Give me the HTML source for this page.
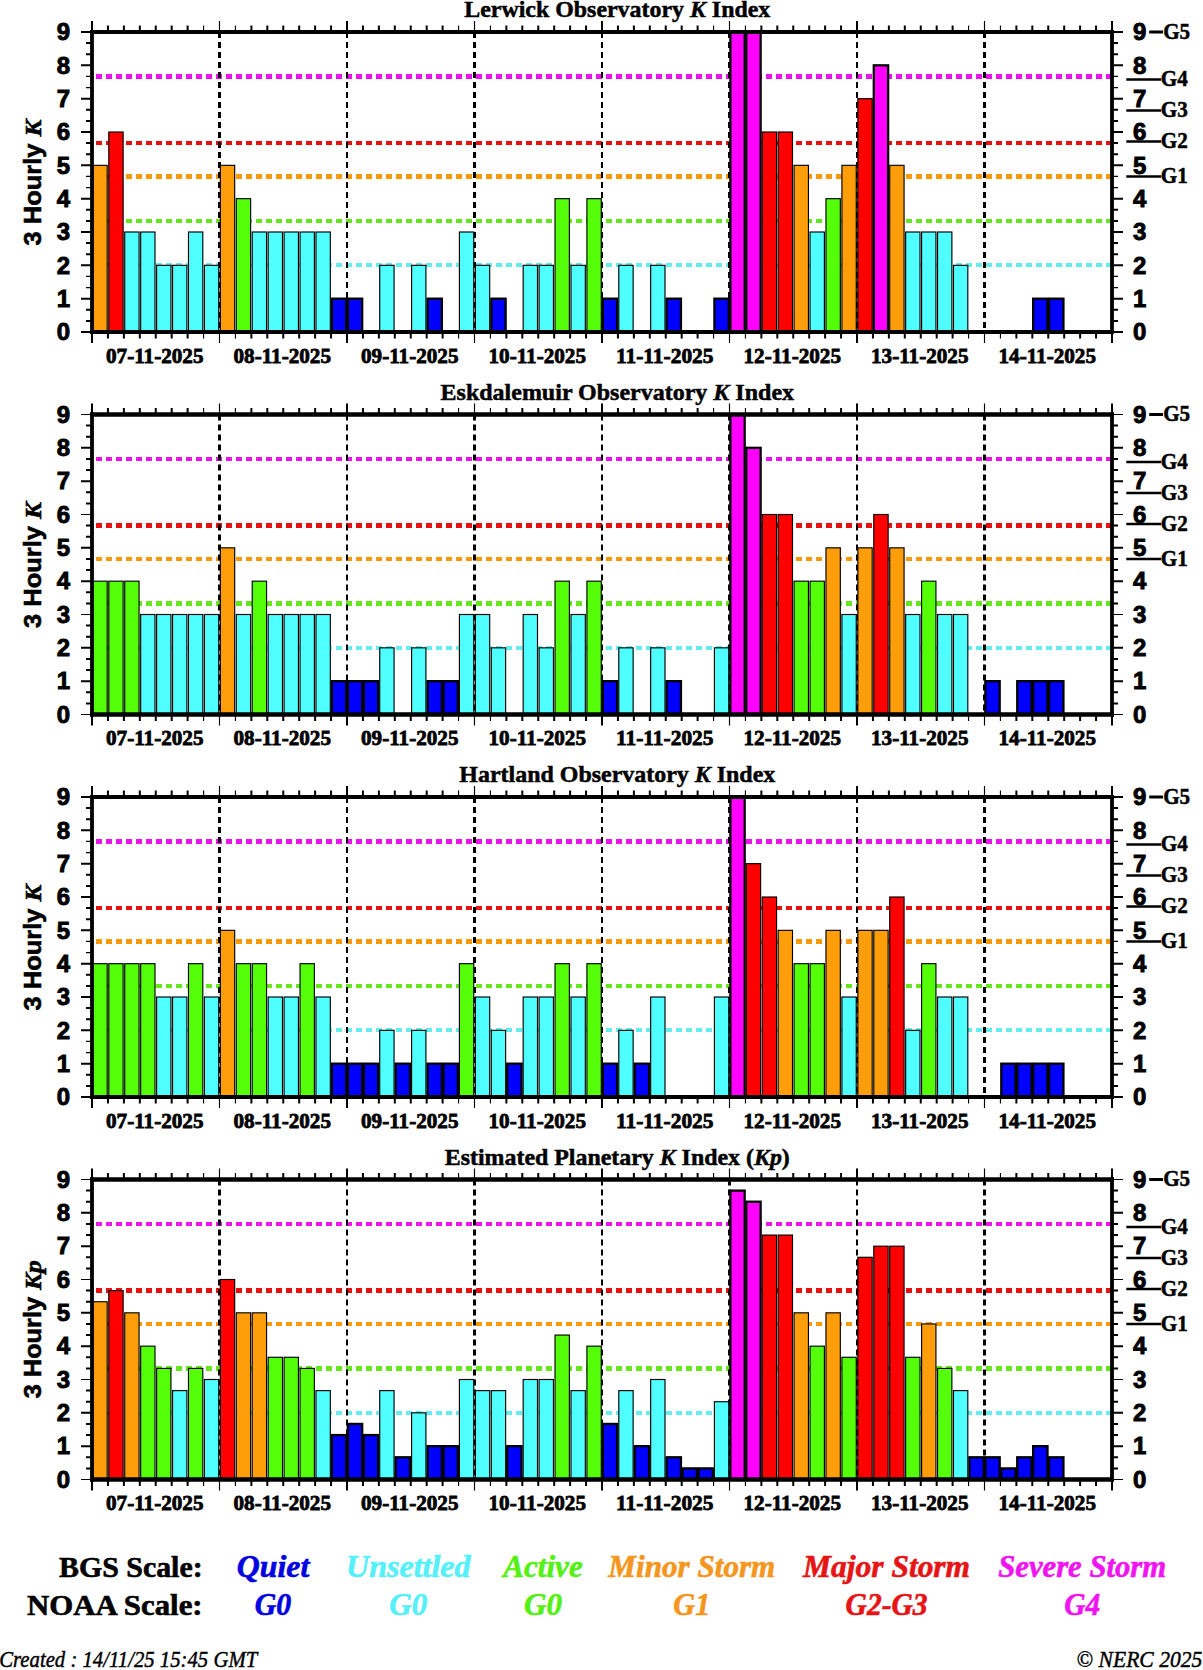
<!DOCTYPE html>
<html lang="en"><head><meta charset="utf-8"><title>Geomagnetic K indices</title>
<style>html,body{margin:0;padding:0;background:#fff}svg{display:block}</style></head>
<body>
<svg width="1203" height="1670" viewBox="0 0 1203 1670">
<rect width="1203" height="1670" fill="#fff"/>
<g>
<text x="617.3" y="17.1" text-anchor="middle" stroke="#000" stroke-width="0.5" font-family='"Liberation Serif", "DejaVu Serif", serif' font-weight="bold" font-size="23.6" textLength="306" lengthAdjust="spacingAndGlyphs" xml:space="preserve">Lerwick Observatory <tspan font-style="italic">K</tspan> Index</text>
<line x1="1112.0" y1="76.50" x2="92.0" y2="76.50" stroke="#EC14EC" stroke-width="5" stroke-dasharray="6 4"/>
<line x1="1112.0" y1="143.00" x2="92.0" y2="143.00" stroke="#E61212" stroke-width="4" stroke-dasharray="6 4"/>
<line x1="1112.0" y1="176.50" x2="92.0" y2="176.50" stroke="#F89A0C" stroke-width="5" stroke-dasharray="6 4"/>
<line x1="1112.0" y1="221.00" x2="92.0" y2="221.00" stroke="#66E61E" stroke-width="4" stroke-dasharray="6 4"/>
<line x1="1112.0" y1="265.00" x2="92.0" y2="265.00" stroke="#66ECEC" stroke-width="4" stroke-dasharray="6 4"/>
<line x1="219.5" y1="32.0" x2="219.5" y2="332.0" stroke="#000" stroke-width="3" stroke-dasharray="6 4"/>
<line x1="347.0" y1="32.0" x2="347.0" y2="332.0" stroke="#000" stroke-width="2" stroke-dasharray="6 4"/>
<line x1="474.5" y1="32.0" x2="474.5" y2="332.0" stroke="#000" stroke-width="3" stroke-dasharray="6 4"/>
<line x1="602.0" y1="32.0" x2="602.0" y2="332.0" stroke="#000" stroke-width="2" stroke-dasharray="6 4"/>
<line x1="729.5" y1="32.0" x2="729.5" y2="332.0" stroke="#000" stroke-width="3" stroke-dasharray="6 4"/>
<line x1="857.0" y1="32.0" x2="857.0" y2="332.0" stroke="#000" stroke-width="2" stroke-dasharray="6 4"/>
<line x1="984.5" y1="32.0" x2="984.5" y2="332.0" stroke="#000" stroke-width="3" stroke-dasharray="6 4"/>
<rect x="92.85" y="165.33" width="14.34" height="166.67" fill="#FF9E0A" stroke="#000" stroke-width="1.15"/>
<rect x="108.79" y="132.00" width="14.34" height="200.00" fill="#FF0000" stroke="#000" stroke-width="1.15"/>
<rect x="124.72" y="232.00" width="14.34" height="100.00" fill="#50FFFF" stroke="#000" stroke-width="1.15"/>
<rect x="140.66" y="232.00" width="14.34" height="100.00" fill="#50FFFF" stroke="#000" stroke-width="1.15"/>
<rect x="156.60" y="265.33" width="14.34" height="66.67" fill="#50FFFF" stroke="#000" stroke-width="1.15"/>
<rect x="172.54" y="265.33" width="14.34" height="66.67" fill="#50FFFF" stroke="#000" stroke-width="1.15"/>
<rect x="188.47" y="232.00" width="14.34" height="100.00" fill="#50FFFF" stroke="#000" stroke-width="1.15"/>
<rect x="204.41" y="265.33" width="14.34" height="66.67" fill="#50FFFF" stroke="#000" stroke-width="1.15"/>
<rect x="220.35" y="165.33" width="14.34" height="166.67" fill="#FF9E0A" stroke="#000" stroke-width="1.15"/>
<rect x="236.29" y="198.67" width="14.34" height="133.33" fill="#55FF0A" stroke="#000" stroke-width="1.15"/>
<rect x="252.22" y="232.00" width="14.34" height="100.00" fill="#50FFFF" stroke="#000" stroke-width="1.15"/>
<rect x="268.16" y="232.00" width="14.34" height="100.00" fill="#50FFFF" stroke="#000" stroke-width="1.15"/>
<rect x="284.10" y="232.00" width="14.34" height="100.00" fill="#50FFFF" stroke="#000" stroke-width="1.15"/>
<rect x="300.04" y="232.00" width="14.34" height="100.00" fill="#50FFFF" stroke="#000" stroke-width="1.15"/>
<rect x="315.98" y="232.00" width="14.34" height="100.00" fill="#50FFFF" stroke="#000" stroke-width="1.15"/>
<rect x="331.91" y="298.67" width="14.34" height="33.33" fill="#0000FF" stroke="#000" stroke-width="2.3"/>
<rect x="347.85" y="298.67" width="14.34" height="33.33" fill="#0000FF" stroke="#000" stroke-width="2.3"/>
<rect x="379.73" y="265.33" width="14.34" height="66.67" fill="#50FFFF" stroke="#000" stroke-width="1.15"/>
<rect x="411.60" y="265.33" width="14.34" height="66.67" fill="#50FFFF" stroke="#000" stroke-width="1.15"/>
<rect x="427.54" y="298.67" width="14.34" height="33.33" fill="#0000FF" stroke="#000" stroke-width="2.3"/>
<rect x="459.41" y="232.00" width="14.34" height="100.00" fill="#50FFFF" stroke="#000" stroke-width="1.15"/>
<rect x="475.35" y="265.33" width="14.34" height="66.67" fill="#50FFFF" stroke="#000" stroke-width="1.15"/>
<rect x="491.29" y="298.67" width="14.34" height="33.33" fill="#0000FF" stroke="#000" stroke-width="2.3"/>
<rect x="523.16" y="265.33" width="14.34" height="66.67" fill="#50FFFF" stroke="#000" stroke-width="1.15"/>
<rect x="539.10" y="265.33" width="14.34" height="66.67" fill="#50FFFF" stroke="#000" stroke-width="1.15"/>
<rect x="555.04" y="198.67" width="14.34" height="133.33" fill="#55FF0A" stroke="#000" stroke-width="1.15"/>
<rect x="570.98" y="265.33" width="14.34" height="66.67" fill="#50FFFF" stroke="#000" stroke-width="1.15"/>
<rect x="586.91" y="198.67" width="14.34" height="133.33" fill="#55FF0A" stroke="#000" stroke-width="1.15"/>
<rect x="602.85" y="298.67" width="14.34" height="33.33" fill="#0000FF" stroke="#000" stroke-width="2.3"/>
<rect x="618.79" y="265.33" width="14.34" height="66.67" fill="#50FFFF" stroke="#000" stroke-width="1.15"/>
<rect x="650.66" y="265.33" width="14.34" height="66.67" fill="#50FFFF" stroke="#000" stroke-width="1.15"/>
<rect x="666.60" y="298.67" width="14.34" height="33.33" fill="#0000FF" stroke="#000" stroke-width="2.3"/>
<rect x="714.41" y="298.67" width="14.34" height="33.33" fill="#0000FF" stroke="#000" stroke-width="2.3"/>
<rect x="730.35" y="32.00" width="14.34" height="300.00" fill="#FF00FF" stroke="#000" stroke-width="2.3"/>
<rect x="746.29" y="32.00" width="14.34" height="300.00" fill="#FF00FF" stroke="#000" stroke-width="2.3"/>
<rect x="762.23" y="132.00" width="14.34" height="200.00" fill="#FF0000" stroke="#000" stroke-width="1.15"/>
<rect x="778.16" y="132.00" width="14.34" height="200.00" fill="#FF0000" stroke="#000" stroke-width="1.15"/>
<rect x="794.10" y="165.33" width="14.34" height="166.67" fill="#FF9E0A" stroke="#000" stroke-width="1.15"/>
<rect x="810.04" y="232.00" width="14.34" height="100.00" fill="#50FFFF" stroke="#000" stroke-width="1.15"/>
<rect x="825.98" y="198.67" width="14.34" height="133.33" fill="#55FF0A" stroke="#000" stroke-width="1.15"/>
<rect x="841.91" y="165.33" width="14.34" height="166.67" fill="#FF9E0A" stroke="#000" stroke-width="1.15"/>
<rect x="857.85" y="98.67" width="14.34" height="233.33" fill="#FF0000" stroke="#000" stroke-width="1.15"/>
<rect x="873.79" y="65.33" width="14.34" height="266.67" fill="#FF00FF" stroke="#000" stroke-width="2.3"/>
<rect x="889.73" y="165.33" width="14.34" height="166.67" fill="#FF9E0A" stroke="#000" stroke-width="1.15"/>
<rect x="905.66" y="232.00" width="14.34" height="100.00" fill="#50FFFF" stroke="#000" stroke-width="1.15"/>
<rect x="921.60" y="232.00" width="14.34" height="100.00" fill="#50FFFF" stroke="#000" stroke-width="1.15"/>
<rect x="937.54" y="232.00" width="14.34" height="100.00" fill="#50FFFF" stroke="#000" stroke-width="1.15"/>
<rect x="953.48" y="265.33" width="14.34" height="66.67" fill="#50FFFF" stroke="#000" stroke-width="1.15"/>
<rect x="1033.16" y="298.67" width="14.34" height="33.33" fill="#0000FF" stroke="#000" stroke-width="2.3"/>
<rect x="1049.10" y="298.67" width="14.34" height="33.33" fill="#0000FF" stroke="#000" stroke-width="2.3"/>
<path d="M81.0,332.00H92.0M1112.0,332.00H1123.0M86.0,320.89H92.0M1112.0,320.89H1118.0M86.0,309.78H92.0M1112.0,309.78H1118.0M81.0,298.67H92.0M1112.0,298.67H1123.0M81.0,265.33H92.0M1112.0,265.33H1123.0M86.0,254.22H92.0M1112.0,254.22H1118.0M86.0,243.11H92.0M1112.0,243.11H1118.0M81.0,232.00H92.0M1112.0,232.00H1123.0M86.0,220.89H92.0M1112.0,220.89H1118.0M86.0,209.78H92.0M1112.0,209.78H1118.0M81.0,198.67H92.0M1112.0,198.67H1123.0M81.0,165.33H92.0M1112.0,165.33H1123.0M86.0,154.22H92.0M1112.0,154.22H1118.0M86.0,143.11H92.0M1112.0,143.11H1118.0M81.0,132.00H92.0M1112.0,132.00H1123.0M86.0,120.89H92.0M1112.0,120.89H1118.0M86.0,109.78H92.0M1112.0,109.78H1118.0M81.0,98.67H92.0M1112.0,98.67H1123.0M81.0,65.33H92.0M1112.0,65.33H1123.0M86.0,54.22H92.0M1112.0,54.22H1118.0M86.0,43.11H92.0M1112.0,43.11H1118.0M81.0,32.00H92.0M1112.0,32.00H1123.0M92.00,21.0V32.0M92.00,332.0V343.0M107.94,25.6V32.0M107.94,332.0V338.4M123.88,25.6V32.0M123.88,332.0V338.4M139.81,25.6V32.0M139.81,332.0V338.4M155.75,25.6V32.0M155.75,332.0V338.4M171.69,25.6V32.0M171.69,332.0V338.4M187.62,25.6V32.0M187.62,332.0V338.4M251.38,25.6V32.0M251.38,332.0V338.4M267.31,25.6V32.0M267.31,332.0V338.4M283.25,25.6V32.0M283.25,332.0V338.4M299.19,25.6V32.0M299.19,332.0V338.4M315.12,25.6V32.0M315.12,332.0V338.4M331.06,25.6V32.0M331.06,332.0V338.4M347.00,21.0V32.0M347.00,332.0V343.0M362.94,25.6V32.0M362.94,332.0V338.4M378.88,25.6V32.0M378.88,332.0V338.4M394.81,25.6V32.0M394.81,332.0V338.4M410.75,25.6V32.0M410.75,332.0V338.4M426.69,25.6V32.0M426.69,332.0V338.4M442.62,25.6V32.0M442.62,332.0V338.4M506.38,25.6V32.0M506.38,332.0V338.4M522.31,25.6V32.0M522.31,332.0V338.4M538.25,25.6V32.0M538.25,332.0V338.4M554.19,25.6V32.0M554.19,332.0V338.4M570.12,25.6V32.0M570.12,332.0V338.4M586.06,25.6V32.0M586.06,332.0V338.4M602.00,21.0V32.0M602.00,332.0V343.0M617.94,25.6V32.0M617.94,332.0V338.4M633.88,25.6V32.0M633.88,332.0V338.4M649.81,25.6V32.0M649.81,332.0V338.4M665.75,25.6V32.0M665.75,332.0V338.4M681.69,25.6V32.0M681.69,332.0V338.4M697.62,25.6V32.0M697.62,332.0V338.4M761.38,25.6V32.0M761.38,332.0V338.4M777.31,25.6V32.0M777.31,332.0V338.4M793.25,25.6V32.0M793.25,332.0V338.4M809.19,25.6V32.0M809.19,332.0V338.4M825.12,25.6V32.0M825.12,332.0V338.4M841.06,25.6V32.0M841.06,332.0V338.4M857.00,21.0V32.0M857.00,332.0V343.0M872.94,25.6V32.0M872.94,332.0V338.4M888.88,25.6V32.0M888.88,332.0V338.4M904.81,25.6V32.0M904.81,332.0V338.4M920.75,25.6V32.0M920.75,332.0V338.4M936.69,25.6V32.0M936.69,332.0V338.4M952.62,25.6V32.0M952.62,332.0V338.4M1016.38,25.6V32.0M1016.38,332.0V338.4M1032.31,25.6V32.0M1032.31,332.0V338.4M1048.25,25.6V32.0M1048.25,332.0V338.4M1064.19,25.6V32.0M1064.19,332.0V338.4M1080.12,25.6V32.0M1080.12,332.0V338.4M1096.06,25.6V32.0M1096.06,332.0V338.4M1112.00,21.0V32.0M1112.00,332.0V343.0" stroke="#000" stroke-width="2" fill="none"/>
<path d="M86.0,287.56H92.0M1112.0,287.56H1118.0M86.0,276.44H92.0M1112.0,276.44H1118.0M86.0,187.56H92.0M1112.0,187.56H1118.0M86.0,176.44H92.0M1112.0,176.44H1118.0M86.0,87.56H92.0M1112.0,87.56H1118.0M86.0,76.44H92.0M1112.0,76.44H1118.0M203.56,25.6V32.0M203.56,332.0V338.4M219.50,21.0V32.0M219.50,332.0V343.0M235.44,25.6V32.0M235.44,332.0V338.4M458.56,25.6V32.0M458.56,332.0V338.4M474.50,21.0V32.0M474.50,332.0V343.0M490.44,25.6V32.0M490.44,332.0V338.4M713.56,25.6V32.0M713.56,332.0V338.4M729.50,21.0V32.0M729.50,332.0V343.0M745.44,25.6V32.0M745.44,332.0V338.4M968.56,25.6V32.0M968.56,332.0V338.4M984.50,21.0V32.0M984.50,332.0V343.0M1000.44,25.6V32.0M1000.44,332.0V338.4" stroke="#000" stroke-width="1.15" fill="none"/>
<path d="M92.0,30.1V333.9M1112.0,30.1V333.9" stroke="#000" stroke-width="3.8" fill="none"/>
<path d="M90.2,32.0H1113.8M90.2,332.0H1113.8" stroke="#000" stroke-width="3.8" fill="none"/>
<text x="70.1" y="340.20" text-anchor="end" stroke="#000" stroke-width="0.9" font-family='"Liberation Sans", Arial, Helvetica, sans-serif' font-weight="bold" font-size="24">0</text>
<text x="1133.0" y="340.20" stroke="#000" stroke-width="0.9" font-family='"Liberation Sans", Arial, Helvetica, sans-serif' font-weight="bold" font-size="24">0</text>
<text x="70.1" y="306.87" text-anchor="end" stroke="#000" stroke-width="0.9" font-family='"Liberation Sans", Arial, Helvetica, sans-serif' font-weight="bold" font-size="24">1</text>
<text x="1133.0" y="306.87" stroke="#000" stroke-width="0.9" font-family='"Liberation Sans", Arial, Helvetica, sans-serif' font-weight="bold" font-size="24">1</text>
<text x="70.1" y="273.53" text-anchor="end" stroke="#000" stroke-width="0.9" font-family='"Liberation Sans", Arial, Helvetica, sans-serif' font-weight="bold" font-size="24">2</text>
<text x="1133.0" y="273.53" stroke="#000" stroke-width="0.9" font-family='"Liberation Sans", Arial, Helvetica, sans-serif' font-weight="bold" font-size="24">2</text>
<text x="70.1" y="240.20" text-anchor="end" stroke="#000" stroke-width="0.9" font-family='"Liberation Sans", Arial, Helvetica, sans-serif' font-weight="bold" font-size="24">3</text>
<text x="1133.0" y="240.20" stroke="#000" stroke-width="0.9" font-family='"Liberation Sans", Arial, Helvetica, sans-serif' font-weight="bold" font-size="24">3</text>
<text x="70.1" y="206.87" text-anchor="end" stroke="#000" stroke-width="0.9" font-family='"Liberation Sans", Arial, Helvetica, sans-serif' font-weight="bold" font-size="24">4</text>
<text x="1133.0" y="206.87" stroke="#000" stroke-width="0.9" font-family='"Liberation Sans", Arial, Helvetica, sans-serif' font-weight="bold" font-size="24">4</text>
<text x="70.1" y="173.53" text-anchor="end" stroke="#000" stroke-width="0.9" font-family='"Liberation Sans", Arial, Helvetica, sans-serif' font-weight="bold" font-size="24">5</text>
<text x="1133.0" y="173.53" stroke="#000" stroke-width="0.9" font-family='"Liberation Sans", Arial, Helvetica, sans-serif' font-weight="bold" font-size="24">5</text>
<text x="70.1" y="140.20" text-anchor="end" stroke="#000" stroke-width="0.9" font-family='"Liberation Sans", Arial, Helvetica, sans-serif' font-weight="bold" font-size="24">6</text>
<text x="1133.0" y="140.20" stroke="#000" stroke-width="0.9" font-family='"Liberation Sans", Arial, Helvetica, sans-serif' font-weight="bold" font-size="24">6</text>
<text x="70.1" y="106.87" text-anchor="end" stroke="#000" stroke-width="0.9" font-family='"Liberation Sans", Arial, Helvetica, sans-serif' font-weight="bold" font-size="24">7</text>
<text x="1133.0" y="106.87" stroke="#000" stroke-width="0.9" font-family='"Liberation Sans", Arial, Helvetica, sans-serif' font-weight="bold" font-size="24">7</text>
<text x="70.1" y="73.53" text-anchor="end" stroke="#000" stroke-width="0.9" font-family='"Liberation Sans", Arial, Helvetica, sans-serif' font-weight="bold" font-size="24">8</text>
<text x="1133.0" y="73.53" stroke="#000" stroke-width="0.9" font-family='"Liberation Sans", Arial, Helvetica, sans-serif' font-weight="bold" font-size="24">8</text>
<text x="70.1" y="40.20" text-anchor="end" stroke="#000" stroke-width="0.9" font-family='"Liberation Sans", Arial, Helvetica, sans-serif' font-weight="bold" font-size="24">9</text>
<text x="1133.0" y="40.20" stroke="#000" stroke-width="0.9" font-family='"Liberation Sans", Arial, Helvetica, sans-serif' font-weight="bold" font-size="24">9</text>
<line x1="1149.2" y1="32.0" x2="1163" y2="32.0" stroke="#000" stroke-width="3"/>
<text x="1163.2" y="38.6" stroke="#000" stroke-width="0.5" font-family='"Liberation Serif", "DejaVu Serif", serif' font-weight="bold" font-size="22.8" textLength="27" lengthAdjust="spacingAndGlyphs">G5</text>
<line x1="1126.3" y1="79.6" x2="1161.2" y2="79.6" stroke="#000" stroke-width="2.5"/>
<text x="1160.8" y="86.2" stroke="#000" stroke-width="0.5" font-family='"Liberation Serif", "DejaVu Serif", serif' font-weight="bold" font-size="22.8" textLength="27" lengthAdjust="spacingAndGlyphs">G4</text>
<line x1="1126.3" y1="110.4" x2="1161.2" y2="110.4" stroke="#000" stroke-width="2.5"/>
<text x="1160.8" y="117.0" stroke="#000" stroke-width="0.5" font-family='"Liberation Serif", "DejaVu Serif", serif' font-weight="bold" font-size="22.8" textLength="27" lengthAdjust="spacingAndGlyphs">G3</text>
<line x1="1126.3" y1="141.5" x2="1161.2" y2="141.5" stroke="#000" stroke-width="2.5"/>
<text x="1160.8" y="148.1" stroke="#000" stroke-width="0.5" font-family='"Liberation Serif", "DejaVu Serif", serif' font-weight="bold" font-size="22.8" textLength="27" lengthAdjust="spacingAndGlyphs">G2</text>
<line x1="1126.3" y1="176.6" x2="1161.2" y2="176.6" stroke="#000" stroke-width="2.5"/>
<text x="1160.8" y="183.2" stroke="#000" stroke-width="0.5" font-family='"Liberation Serif", "DejaVu Serif", serif' font-weight="bold" font-size="22.8" textLength="27" lengthAdjust="spacingAndGlyphs">G1</text>
<text x="154.75" y="362.5" text-anchor="middle" stroke="#000" stroke-width="0.8" font-family='"Liberation Serif", "DejaVu Serif", serif' font-weight="bold" font-size="21.6" textLength="97.5" lengthAdjust="spacingAndGlyphs">07-11-2025</text>
<text x="282.25" y="362.5" text-anchor="middle" stroke="#000" stroke-width="0.8" font-family='"Liberation Serif", "DejaVu Serif", serif' font-weight="bold" font-size="21.6" textLength="97.5" lengthAdjust="spacingAndGlyphs">08-11-2025</text>
<text x="409.75" y="362.5" text-anchor="middle" stroke="#000" stroke-width="0.8" font-family='"Liberation Serif", "DejaVu Serif", serif' font-weight="bold" font-size="21.6" textLength="97.5" lengthAdjust="spacingAndGlyphs">09-11-2025</text>
<text x="537.25" y="362.5" text-anchor="middle" stroke="#000" stroke-width="0.8" font-family='"Liberation Serif", "DejaVu Serif", serif' font-weight="bold" font-size="21.6" textLength="97.5" lengthAdjust="spacingAndGlyphs">10-11-2025</text>
<text x="664.75" y="362.5" text-anchor="middle" stroke="#000" stroke-width="0.8" font-family='"Liberation Serif", "DejaVu Serif", serif' font-weight="bold" font-size="21.6" textLength="97.5" lengthAdjust="spacingAndGlyphs">11-11-2025</text>
<text x="792.25" y="362.5" text-anchor="middle" stroke="#000" stroke-width="0.8" font-family='"Liberation Serif", "DejaVu Serif", serif' font-weight="bold" font-size="21.6" textLength="97.5" lengthAdjust="spacingAndGlyphs">12-11-2025</text>
<text x="919.75" y="362.5" text-anchor="middle" stroke="#000" stroke-width="0.8" font-family='"Liberation Serif", "DejaVu Serif", serif' font-weight="bold" font-size="21.6" textLength="97.5" lengthAdjust="spacingAndGlyphs">13-11-2025</text>
<text x="1047.25" y="362.5" text-anchor="middle" stroke="#000" stroke-width="0.8" font-family='"Liberation Serif", "DejaVu Serif", serif' font-weight="bold" font-size="21.6" textLength="97.5" lengthAdjust="spacingAndGlyphs">14-11-2025</text>
<text transform="translate(41.2,245.4) rotate(-90)" stroke="#000" stroke-width="0.6" font-family='"Liberation Sans", Arial, Helvetica, sans-serif' font-weight="bold" font-size="24" textLength="126" lengthAdjust="spacingAndGlyphs" xml:space="preserve">3 Hourly <tspan font-family='"Liberation Serif", "DejaVu Serif", serif' font-style="italic">K</tspan></text>
</g>
<g>
<text x="617.3" y="399.6" text-anchor="middle" stroke="#000" stroke-width="0.5" font-family='"Liberation Serif", "DejaVu Serif", serif' font-weight="bold" font-size="23.6" textLength="353.5" lengthAdjust="spacingAndGlyphs" xml:space="preserve">Eskdalemuir Observatory <tspan font-style="italic">K</tspan> Index</text>
<line x1="1112.0" y1="459.00" x2="92.0" y2="459.00" stroke="#EC14EC" stroke-width="4" stroke-dasharray="6 4"/>
<line x1="1112.0" y1="525.50" x2="92.0" y2="525.50" stroke="#E61212" stroke-width="5" stroke-dasharray="6 4"/>
<line x1="1112.0" y1="559.00" x2="92.0" y2="559.00" stroke="#F89A0C" stroke-width="4" stroke-dasharray="6 4"/>
<line x1="1112.0" y1="603.50" x2="92.0" y2="603.50" stroke="#66E61E" stroke-width="5" stroke-dasharray="6 4"/>
<line x1="1112.0" y1="648.00" x2="92.0" y2="648.00" stroke="#66ECEC" stroke-width="4" stroke-dasharray="6 4"/>
<line x1="219.5" y1="414.5" x2="219.5" y2="714.5" stroke="#000" stroke-width="3" stroke-dasharray="6 4"/>
<line x1="347.0" y1="414.5" x2="347.0" y2="714.5" stroke="#000" stroke-width="2" stroke-dasharray="6 4"/>
<line x1="474.5" y1="414.5" x2="474.5" y2="714.5" stroke="#000" stroke-width="3" stroke-dasharray="6 4"/>
<line x1="602.0" y1="414.5" x2="602.0" y2="714.5" stroke="#000" stroke-width="2" stroke-dasharray="6 4"/>
<line x1="729.5" y1="414.5" x2="729.5" y2="714.5" stroke="#000" stroke-width="3" stroke-dasharray="6 4"/>
<line x1="857.0" y1="414.5" x2="857.0" y2="714.5" stroke="#000" stroke-width="2" stroke-dasharray="6 4"/>
<line x1="984.5" y1="414.5" x2="984.5" y2="714.5" stroke="#000" stroke-width="3" stroke-dasharray="6 4"/>
<rect x="92.85" y="581.17" width="14.34" height="133.33" fill="#55FF0A" stroke="#000" stroke-width="1.15"/>
<rect x="108.79" y="581.17" width="14.34" height="133.33" fill="#55FF0A" stroke="#000" stroke-width="1.15"/>
<rect x="124.72" y="581.17" width="14.34" height="133.33" fill="#55FF0A" stroke="#000" stroke-width="1.15"/>
<rect x="140.66" y="614.50" width="14.34" height="100.00" fill="#50FFFF" stroke="#000" stroke-width="1.15"/>
<rect x="156.60" y="614.50" width="14.34" height="100.00" fill="#50FFFF" stroke="#000" stroke-width="1.15"/>
<rect x="172.54" y="614.50" width="14.34" height="100.00" fill="#50FFFF" stroke="#000" stroke-width="1.15"/>
<rect x="188.47" y="614.50" width="14.34" height="100.00" fill="#50FFFF" stroke="#000" stroke-width="1.15"/>
<rect x="204.41" y="614.50" width="14.34" height="100.00" fill="#50FFFF" stroke="#000" stroke-width="1.15"/>
<rect x="220.35" y="547.83" width="14.34" height="166.67" fill="#FF9E0A" stroke="#000" stroke-width="1.15"/>
<rect x="236.29" y="614.50" width="14.34" height="100.00" fill="#50FFFF" stroke="#000" stroke-width="1.15"/>
<rect x="252.22" y="581.17" width="14.34" height="133.33" fill="#55FF0A" stroke="#000" stroke-width="1.15"/>
<rect x="268.16" y="614.50" width="14.34" height="100.00" fill="#50FFFF" stroke="#000" stroke-width="1.15"/>
<rect x="284.10" y="614.50" width="14.34" height="100.00" fill="#50FFFF" stroke="#000" stroke-width="1.15"/>
<rect x="300.04" y="614.50" width="14.34" height="100.00" fill="#50FFFF" stroke="#000" stroke-width="1.15"/>
<rect x="315.98" y="614.50" width="14.34" height="100.00" fill="#50FFFF" stroke="#000" stroke-width="1.15"/>
<rect x="331.91" y="681.17" width="14.34" height="33.33" fill="#0000FF" stroke="#000" stroke-width="2.3"/>
<rect x="347.85" y="681.17" width="14.34" height="33.33" fill="#0000FF" stroke="#000" stroke-width="2.3"/>
<rect x="363.79" y="681.17" width="14.34" height="33.33" fill="#0000FF" stroke="#000" stroke-width="2.3"/>
<rect x="379.73" y="647.83" width="14.34" height="66.67" fill="#50FFFF" stroke="#000" stroke-width="1.15"/>
<rect x="395.66" y="714.50" width="14.34" height="0.00" fill="#0000FF" stroke="#000" stroke-width="2.3"/>
<rect x="411.60" y="647.83" width="14.34" height="66.67" fill="#50FFFF" stroke="#000" stroke-width="1.15"/>
<rect x="427.54" y="681.17" width="14.34" height="33.33" fill="#0000FF" stroke="#000" stroke-width="2.3"/>
<rect x="443.48" y="681.17" width="14.34" height="33.33" fill="#0000FF" stroke="#000" stroke-width="2.3"/>
<rect x="459.41" y="614.50" width="14.34" height="100.00" fill="#50FFFF" stroke="#000" stroke-width="1.15"/>
<rect x="475.35" y="614.50" width="14.34" height="100.00" fill="#50FFFF" stroke="#000" stroke-width="1.15"/>
<rect x="491.29" y="647.83" width="14.34" height="66.67" fill="#50FFFF" stroke="#000" stroke-width="1.15"/>
<rect x="507.23" y="714.50" width="14.34" height="0.00" fill="#0000FF" stroke="#000" stroke-width="2.3"/>
<rect x="523.16" y="614.50" width="14.34" height="100.00" fill="#50FFFF" stroke="#000" stroke-width="1.15"/>
<rect x="539.10" y="647.83" width="14.34" height="66.67" fill="#50FFFF" stroke="#000" stroke-width="1.15"/>
<rect x="555.04" y="581.17" width="14.34" height="133.33" fill="#55FF0A" stroke="#000" stroke-width="1.15"/>
<rect x="570.98" y="614.50" width="14.34" height="100.00" fill="#50FFFF" stroke="#000" stroke-width="1.15"/>
<rect x="586.91" y="581.17" width="14.34" height="133.33" fill="#55FF0A" stroke="#000" stroke-width="1.15"/>
<rect x="602.85" y="681.17" width="14.34" height="33.33" fill="#0000FF" stroke="#000" stroke-width="2.3"/>
<rect x="618.79" y="647.83" width="14.34" height="66.67" fill="#50FFFF" stroke="#000" stroke-width="1.15"/>
<rect x="634.73" y="714.50" width="14.34" height="0.00" fill="#0000FF" stroke="#000" stroke-width="2.3"/>
<rect x="650.66" y="647.83" width="14.34" height="66.67" fill="#50FFFF" stroke="#000" stroke-width="1.15"/>
<rect x="666.60" y="681.17" width="14.34" height="33.33" fill="#0000FF" stroke="#000" stroke-width="2.3"/>
<rect x="682.54" y="714.50" width="14.34" height="0.00" fill="#0000FF" stroke="#000" stroke-width="2.3"/>
<rect x="698.48" y="714.50" width="14.34" height="0.00" fill="#0000FF" stroke="#000" stroke-width="2.3"/>
<rect x="714.41" y="647.83" width="14.34" height="66.67" fill="#50FFFF" stroke="#000" stroke-width="1.15"/>
<rect x="730.35" y="414.50" width="14.34" height="300.00" fill="#FF00FF" stroke="#000" stroke-width="2.3"/>
<rect x="746.29" y="447.83" width="14.34" height="266.67" fill="#FF00FF" stroke="#000" stroke-width="2.3"/>
<rect x="762.23" y="514.50" width="14.34" height="200.00" fill="#FF0000" stroke="#000" stroke-width="1.15"/>
<rect x="778.16" y="514.50" width="14.34" height="200.00" fill="#FF0000" stroke="#000" stroke-width="1.15"/>
<rect x="794.10" y="581.17" width="14.34" height="133.33" fill="#55FF0A" stroke="#000" stroke-width="1.15"/>
<rect x="810.04" y="581.17" width="14.34" height="133.33" fill="#55FF0A" stroke="#000" stroke-width="1.15"/>
<rect x="825.98" y="547.83" width="14.34" height="166.67" fill="#FF9E0A" stroke="#000" stroke-width="1.15"/>
<rect x="841.91" y="614.50" width="14.34" height="100.00" fill="#50FFFF" stroke="#000" stroke-width="1.15"/>
<rect x="857.85" y="547.83" width="14.34" height="166.67" fill="#FF9E0A" stroke="#000" stroke-width="1.15"/>
<rect x="873.79" y="514.50" width="14.34" height="200.00" fill="#FF0000" stroke="#000" stroke-width="1.15"/>
<rect x="889.73" y="547.83" width="14.34" height="166.67" fill="#FF9E0A" stroke="#000" stroke-width="1.15"/>
<rect x="905.66" y="614.50" width="14.34" height="100.00" fill="#50FFFF" stroke="#000" stroke-width="1.15"/>
<rect x="921.60" y="581.17" width="14.34" height="133.33" fill="#55FF0A" stroke="#000" stroke-width="1.15"/>
<rect x="937.54" y="614.50" width="14.34" height="100.00" fill="#50FFFF" stroke="#000" stroke-width="1.15"/>
<rect x="953.48" y="614.50" width="14.34" height="100.00" fill="#50FFFF" stroke="#000" stroke-width="1.15"/>
<rect x="969.41" y="714.50" width="14.34" height="0.00" fill="#0000FF" stroke="#000" stroke-width="2.3"/>
<rect x="985.35" y="681.17" width="14.34" height="33.33" fill="#0000FF" stroke="#000" stroke-width="2.3"/>
<rect x="1001.29" y="714.50" width="14.34" height="0.00" fill="#0000FF" stroke="#000" stroke-width="2.3"/>
<rect x="1017.23" y="681.17" width="14.34" height="33.33" fill="#0000FF" stroke="#000" stroke-width="2.3"/>
<rect x="1033.16" y="681.17" width="14.34" height="33.33" fill="#0000FF" stroke="#000" stroke-width="2.3"/>
<rect x="1049.10" y="681.17" width="14.34" height="33.33" fill="#0000FF" stroke="#000" stroke-width="2.3"/>
<rect x="1065.04" y="714.50" width="14.34" height="0.00" fill="#0000FF" stroke="#000" stroke-width="2.3"/>
<rect x="1080.97" y="714.50" width="14.34" height="0.00" fill="#0000FF" stroke="#000" stroke-width="2.3"/>
<path d="M86.0,703.39H92.0M1112.0,703.39H1118.0M86.0,692.28H92.0M1112.0,692.28H1118.0M81.0,681.17H92.0M1112.0,681.17H1123.0M86.0,670.06H92.0M1112.0,670.06H1118.0M86.0,658.94H92.0M1112.0,658.94H1118.0M81.0,647.83H92.0M1112.0,647.83H1123.0M86.0,636.72H92.0M1112.0,636.72H1118.0M86.0,625.61H92.0M1112.0,625.61H1118.0M86.0,603.39H92.0M1112.0,603.39H1118.0M86.0,592.28H92.0M1112.0,592.28H1118.0M81.0,581.17H92.0M1112.0,581.17H1123.0M86.0,570.06H92.0M1112.0,570.06H1118.0M86.0,558.94H92.0M1112.0,558.94H1118.0M81.0,547.83H92.0M1112.0,547.83H1123.0M86.0,536.72H92.0M1112.0,536.72H1118.0M86.0,525.61H92.0M1112.0,525.61H1118.0M86.0,503.39H92.0M1112.0,503.39H1118.0M86.0,492.28H92.0M1112.0,492.28H1118.0M81.0,481.17H92.0M1112.0,481.17H1123.0M86.0,470.06H92.0M1112.0,470.06H1118.0M86.0,458.94H92.0M1112.0,458.94H1118.0M81.0,447.83H92.0M1112.0,447.83H1123.0M86.0,436.72H92.0M1112.0,436.72H1118.0M86.0,425.61H92.0M1112.0,425.61H1118.0M92.00,403.5V414.5M92.00,714.5V725.5M107.94,408.1V414.5M107.94,714.5V720.9M123.88,408.1V414.5M123.88,714.5V720.9M139.81,408.1V414.5M139.81,714.5V720.9M155.75,408.1V414.5M155.75,714.5V720.9M171.69,408.1V414.5M171.69,714.5V720.9M187.62,408.1V414.5M187.62,714.5V720.9M251.38,408.1V414.5M251.38,714.5V720.9M267.31,408.1V414.5M267.31,714.5V720.9M283.25,408.1V414.5M283.25,714.5V720.9M299.19,408.1V414.5M299.19,714.5V720.9M315.12,408.1V414.5M315.12,714.5V720.9M331.06,408.1V414.5M331.06,714.5V720.9M347.00,403.5V414.5M347.00,714.5V725.5M362.94,408.1V414.5M362.94,714.5V720.9M378.88,408.1V414.5M378.88,714.5V720.9M394.81,408.1V414.5M394.81,714.5V720.9M410.75,408.1V414.5M410.75,714.5V720.9M426.69,408.1V414.5M426.69,714.5V720.9M442.62,408.1V414.5M442.62,714.5V720.9M506.38,408.1V414.5M506.38,714.5V720.9M522.31,408.1V414.5M522.31,714.5V720.9M538.25,408.1V414.5M538.25,714.5V720.9M554.19,408.1V414.5M554.19,714.5V720.9M570.12,408.1V414.5M570.12,714.5V720.9M586.06,408.1V414.5M586.06,714.5V720.9M602.00,403.5V414.5M602.00,714.5V725.5M617.94,408.1V414.5M617.94,714.5V720.9M633.88,408.1V414.5M633.88,714.5V720.9M649.81,408.1V414.5M649.81,714.5V720.9M665.75,408.1V414.5M665.75,714.5V720.9M681.69,408.1V414.5M681.69,714.5V720.9M697.62,408.1V414.5M697.62,714.5V720.9M761.38,408.1V414.5M761.38,714.5V720.9M777.31,408.1V414.5M777.31,714.5V720.9M793.25,408.1V414.5M793.25,714.5V720.9M809.19,408.1V414.5M809.19,714.5V720.9M825.12,408.1V414.5M825.12,714.5V720.9M841.06,408.1V414.5M841.06,714.5V720.9M857.00,403.5V414.5M857.00,714.5V725.5M872.94,408.1V414.5M872.94,714.5V720.9M888.88,408.1V414.5M888.88,714.5V720.9M904.81,408.1V414.5M904.81,714.5V720.9M920.75,408.1V414.5M920.75,714.5V720.9M936.69,408.1V414.5M936.69,714.5V720.9M952.62,408.1V414.5M952.62,714.5V720.9M1016.38,408.1V414.5M1016.38,714.5V720.9M1032.31,408.1V414.5M1032.31,714.5V720.9M1048.25,408.1V414.5M1048.25,714.5V720.9M1064.19,408.1V414.5M1064.19,714.5V720.9M1080.12,408.1V414.5M1080.12,714.5V720.9M1096.06,408.1V414.5M1096.06,714.5V720.9M1112.00,403.5V414.5M1112.00,714.5V725.5" stroke="#000" stroke-width="2" fill="none"/>
<path d="M81.0,714.50H92.0M1112.0,714.50H1123.0M81.0,614.50H92.0M1112.0,614.50H1123.0M81.0,514.50H92.0M1112.0,514.50H1123.0M81.0,414.50H92.0M1112.0,414.50H1123.0M203.56,408.1V414.5M203.56,714.5V720.9M219.50,403.5V414.5M219.50,714.5V725.5M235.44,408.1V414.5M235.44,714.5V720.9M458.56,408.1V414.5M458.56,714.5V720.9M474.50,403.5V414.5M474.50,714.5V725.5M490.44,408.1V414.5M490.44,714.5V720.9M713.56,408.1V414.5M713.56,714.5V720.9M729.50,403.5V414.5M729.50,714.5V725.5M745.44,408.1V414.5M745.44,714.5V720.9M968.56,408.1V414.5M968.56,714.5V720.9M984.50,403.5V414.5M984.50,714.5V725.5M1000.44,408.1V414.5M1000.44,714.5V720.9" stroke="#000" stroke-width="1.15" fill="none"/>
<path d="M92.0,412.15V716.85M1112.0,412.15V716.85" stroke="#000" stroke-width="3.8" fill="none"/>
<path d="M90.2,414.5H1113.8M90.2,714.5H1113.8" stroke="#000" stroke-width="4.7" fill="none"/>
<text x="70.1" y="722.70" text-anchor="end" stroke="#000" stroke-width="0.9" font-family='"Liberation Sans", Arial, Helvetica, sans-serif' font-weight="bold" font-size="24">0</text>
<text x="1133.0" y="722.70" stroke="#000" stroke-width="0.9" font-family='"Liberation Sans", Arial, Helvetica, sans-serif' font-weight="bold" font-size="24">0</text>
<text x="70.1" y="689.37" text-anchor="end" stroke="#000" stroke-width="0.9" font-family='"Liberation Sans", Arial, Helvetica, sans-serif' font-weight="bold" font-size="24">1</text>
<text x="1133.0" y="689.37" stroke="#000" stroke-width="0.9" font-family='"Liberation Sans", Arial, Helvetica, sans-serif' font-weight="bold" font-size="24">1</text>
<text x="70.1" y="656.03" text-anchor="end" stroke="#000" stroke-width="0.9" font-family='"Liberation Sans", Arial, Helvetica, sans-serif' font-weight="bold" font-size="24">2</text>
<text x="1133.0" y="656.03" stroke="#000" stroke-width="0.9" font-family='"Liberation Sans", Arial, Helvetica, sans-serif' font-weight="bold" font-size="24">2</text>
<text x="70.1" y="622.70" text-anchor="end" stroke="#000" stroke-width="0.9" font-family='"Liberation Sans", Arial, Helvetica, sans-serif' font-weight="bold" font-size="24">3</text>
<text x="1133.0" y="622.70" stroke="#000" stroke-width="0.9" font-family='"Liberation Sans", Arial, Helvetica, sans-serif' font-weight="bold" font-size="24">3</text>
<text x="70.1" y="589.37" text-anchor="end" stroke="#000" stroke-width="0.9" font-family='"Liberation Sans", Arial, Helvetica, sans-serif' font-weight="bold" font-size="24">4</text>
<text x="1133.0" y="589.37" stroke="#000" stroke-width="0.9" font-family='"Liberation Sans", Arial, Helvetica, sans-serif' font-weight="bold" font-size="24">4</text>
<text x="70.1" y="556.03" text-anchor="end" stroke="#000" stroke-width="0.9" font-family='"Liberation Sans", Arial, Helvetica, sans-serif' font-weight="bold" font-size="24">5</text>
<text x="1133.0" y="556.03" stroke="#000" stroke-width="0.9" font-family='"Liberation Sans", Arial, Helvetica, sans-serif' font-weight="bold" font-size="24">5</text>
<text x="70.1" y="522.70" text-anchor="end" stroke="#000" stroke-width="0.9" font-family='"Liberation Sans", Arial, Helvetica, sans-serif' font-weight="bold" font-size="24">6</text>
<text x="1133.0" y="522.70" stroke="#000" stroke-width="0.9" font-family='"Liberation Sans", Arial, Helvetica, sans-serif' font-weight="bold" font-size="24">6</text>
<text x="70.1" y="489.37" text-anchor="end" stroke="#000" stroke-width="0.9" font-family='"Liberation Sans", Arial, Helvetica, sans-serif' font-weight="bold" font-size="24">7</text>
<text x="1133.0" y="489.37" stroke="#000" stroke-width="0.9" font-family='"Liberation Sans", Arial, Helvetica, sans-serif' font-weight="bold" font-size="24">7</text>
<text x="70.1" y="456.03" text-anchor="end" stroke="#000" stroke-width="0.9" font-family='"Liberation Sans", Arial, Helvetica, sans-serif' font-weight="bold" font-size="24">8</text>
<text x="1133.0" y="456.03" stroke="#000" stroke-width="0.9" font-family='"Liberation Sans", Arial, Helvetica, sans-serif' font-weight="bold" font-size="24">8</text>
<text x="70.1" y="422.70" text-anchor="end" stroke="#000" stroke-width="0.9" font-family='"Liberation Sans", Arial, Helvetica, sans-serif' font-weight="bold" font-size="24">9</text>
<text x="1133.0" y="422.70" stroke="#000" stroke-width="0.9" font-family='"Liberation Sans", Arial, Helvetica, sans-serif' font-weight="bold" font-size="24">9</text>
<line x1="1149.2" y1="414.5" x2="1163" y2="414.5" stroke="#000" stroke-width="3"/>
<text x="1163.2" y="421.1" stroke="#000" stroke-width="0.5" font-family='"Liberation Serif", "DejaVu Serif", serif' font-weight="bold" font-size="22.8" textLength="27" lengthAdjust="spacingAndGlyphs">G5</text>
<line x1="1126.3" y1="462.1" x2="1161.2" y2="462.1" stroke="#000" stroke-width="2.5"/>
<text x="1160.8" y="468.7" stroke="#000" stroke-width="0.5" font-family='"Liberation Serif", "DejaVu Serif", serif' font-weight="bold" font-size="22.8" textLength="27" lengthAdjust="spacingAndGlyphs">G4</text>
<line x1="1126.3" y1="492.9" x2="1161.2" y2="492.9" stroke="#000" stroke-width="2.5"/>
<text x="1160.8" y="499.5" stroke="#000" stroke-width="0.5" font-family='"Liberation Serif", "DejaVu Serif", serif' font-weight="bold" font-size="22.8" textLength="27" lengthAdjust="spacingAndGlyphs">G3</text>
<line x1="1126.3" y1="524.0" x2="1161.2" y2="524.0" stroke="#000" stroke-width="2.5"/>
<text x="1160.8" y="530.6" stroke="#000" stroke-width="0.5" font-family='"Liberation Serif", "DejaVu Serif", serif' font-weight="bold" font-size="22.8" textLength="27" lengthAdjust="spacingAndGlyphs">G2</text>
<line x1="1126.3" y1="559.1" x2="1161.2" y2="559.1" stroke="#000" stroke-width="2.5"/>
<text x="1160.8" y="565.7" stroke="#000" stroke-width="0.5" font-family='"Liberation Serif", "DejaVu Serif", serif' font-weight="bold" font-size="22.8" textLength="27" lengthAdjust="spacingAndGlyphs">G1</text>
<text x="154.75" y="745.0" text-anchor="middle" stroke="#000" stroke-width="0.8" font-family='"Liberation Serif", "DejaVu Serif", serif' font-weight="bold" font-size="21.6" textLength="97.5" lengthAdjust="spacingAndGlyphs">07-11-2025</text>
<text x="282.25" y="745.0" text-anchor="middle" stroke="#000" stroke-width="0.8" font-family='"Liberation Serif", "DejaVu Serif", serif' font-weight="bold" font-size="21.6" textLength="97.5" lengthAdjust="spacingAndGlyphs">08-11-2025</text>
<text x="409.75" y="745.0" text-anchor="middle" stroke="#000" stroke-width="0.8" font-family='"Liberation Serif", "DejaVu Serif", serif' font-weight="bold" font-size="21.6" textLength="97.5" lengthAdjust="spacingAndGlyphs">09-11-2025</text>
<text x="537.25" y="745.0" text-anchor="middle" stroke="#000" stroke-width="0.8" font-family='"Liberation Serif", "DejaVu Serif", serif' font-weight="bold" font-size="21.6" textLength="97.5" lengthAdjust="spacingAndGlyphs">10-11-2025</text>
<text x="664.75" y="745.0" text-anchor="middle" stroke="#000" stroke-width="0.8" font-family='"Liberation Serif", "DejaVu Serif", serif' font-weight="bold" font-size="21.6" textLength="97.5" lengthAdjust="spacingAndGlyphs">11-11-2025</text>
<text x="792.25" y="745.0" text-anchor="middle" stroke="#000" stroke-width="0.8" font-family='"Liberation Serif", "DejaVu Serif", serif' font-weight="bold" font-size="21.6" textLength="97.5" lengthAdjust="spacingAndGlyphs">12-11-2025</text>
<text x="919.75" y="745.0" text-anchor="middle" stroke="#000" stroke-width="0.8" font-family='"Liberation Serif", "DejaVu Serif", serif' font-weight="bold" font-size="21.6" textLength="97.5" lengthAdjust="spacingAndGlyphs">13-11-2025</text>
<text x="1047.25" y="745.0" text-anchor="middle" stroke="#000" stroke-width="0.8" font-family='"Liberation Serif", "DejaVu Serif", serif' font-weight="bold" font-size="21.6" textLength="97.5" lengthAdjust="spacingAndGlyphs">14-11-2025</text>
<text transform="translate(41.2,627.9) rotate(-90)" stroke="#000" stroke-width="0.6" font-family='"Liberation Sans", Arial, Helvetica, sans-serif' font-weight="bold" font-size="24" textLength="126" lengthAdjust="spacingAndGlyphs" xml:space="preserve">3 Hourly <tspan font-family='"Liberation Serif", "DejaVu Serif", serif' font-style="italic">K</tspan></text>
</g>
<g>
<text x="617.3" y="782.1" text-anchor="middle" stroke="#000" stroke-width="0.5" font-family='"Liberation Serif", "DejaVu Serif", serif' font-weight="bold" font-size="23.6" textLength="316" lengthAdjust="spacingAndGlyphs" xml:space="preserve">Hartland Observatory <tspan font-style="italic">K</tspan> Index</text>
<line x1="1112.0" y1="841.50" x2="92.0" y2="841.50" stroke="#EC14EC" stroke-width="5" stroke-dasharray="6 4"/>
<line x1="1112.0" y1="908.00" x2="92.0" y2="908.00" stroke="#E61212" stroke-width="4" stroke-dasharray="6 4"/>
<line x1="1112.0" y1="941.50" x2="92.0" y2="941.50" stroke="#F89A0C" stroke-width="5" stroke-dasharray="6 4"/>
<line x1="1112.0" y1="986.00" x2="92.0" y2="986.00" stroke="#66E61E" stroke-width="4" stroke-dasharray="6 4"/>
<line x1="1112.0" y1="1030.00" x2="92.0" y2="1030.00" stroke="#66ECEC" stroke-width="4" stroke-dasharray="6 4"/>
<line x1="219.5" y1="797.0" x2="219.5" y2="1097.0" stroke="#000" stroke-width="3" stroke-dasharray="6 4"/>
<line x1="347.0" y1="797.0" x2="347.0" y2="1097.0" stroke="#000" stroke-width="2" stroke-dasharray="6 4"/>
<line x1="474.5" y1="797.0" x2="474.5" y2="1097.0" stroke="#000" stroke-width="3" stroke-dasharray="6 4"/>
<line x1="602.0" y1="797.0" x2="602.0" y2="1097.0" stroke="#000" stroke-width="2" stroke-dasharray="6 4"/>
<line x1="729.5" y1="797.0" x2="729.5" y2="1097.0" stroke="#000" stroke-width="3" stroke-dasharray="6 4"/>
<line x1="857.0" y1="797.0" x2="857.0" y2="1097.0" stroke="#000" stroke-width="2" stroke-dasharray="6 4"/>
<line x1="984.5" y1="797.0" x2="984.5" y2="1097.0" stroke="#000" stroke-width="3" stroke-dasharray="6 4"/>
<rect x="92.85" y="963.67" width="14.34" height="133.33" fill="#55FF0A" stroke="#000" stroke-width="1.15"/>
<rect x="108.79" y="963.67" width="14.34" height="133.33" fill="#55FF0A" stroke="#000" stroke-width="1.15"/>
<rect x="124.72" y="963.67" width="14.34" height="133.33" fill="#55FF0A" stroke="#000" stroke-width="1.15"/>
<rect x="140.66" y="963.67" width="14.34" height="133.33" fill="#55FF0A" stroke="#000" stroke-width="1.15"/>
<rect x="156.60" y="997.00" width="14.34" height="100.00" fill="#50FFFF" stroke="#000" stroke-width="1.15"/>
<rect x="172.54" y="997.00" width="14.34" height="100.00" fill="#50FFFF" stroke="#000" stroke-width="1.15"/>
<rect x="188.47" y="963.67" width="14.34" height="133.33" fill="#55FF0A" stroke="#000" stroke-width="1.15"/>
<rect x="204.41" y="997.00" width="14.34" height="100.00" fill="#50FFFF" stroke="#000" stroke-width="1.15"/>
<rect x="220.35" y="930.33" width="14.34" height="166.67" fill="#FF9E0A" stroke="#000" stroke-width="1.15"/>
<rect x="236.29" y="963.67" width="14.34" height="133.33" fill="#55FF0A" stroke="#000" stroke-width="1.15"/>
<rect x="252.22" y="963.67" width="14.34" height="133.33" fill="#55FF0A" stroke="#000" stroke-width="1.15"/>
<rect x="268.16" y="997.00" width="14.34" height="100.00" fill="#50FFFF" stroke="#000" stroke-width="1.15"/>
<rect x="284.10" y="997.00" width="14.34" height="100.00" fill="#50FFFF" stroke="#000" stroke-width="1.15"/>
<rect x="300.04" y="963.67" width="14.34" height="133.33" fill="#55FF0A" stroke="#000" stroke-width="1.15"/>
<rect x="315.98" y="997.00" width="14.34" height="100.00" fill="#50FFFF" stroke="#000" stroke-width="1.15"/>
<rect x="331.91" y="1063.67" width="14.34" height="33.33" fill="#0000FF" stroke="#000" stroke-width="2.3"/>
<rect x="347.85" y="1063.67" width="14.34" height="33.33" fill="#0000FF" stroke="#000" stroke-width="2.3"/>
<rect x="363.79" y="1063.67" width="14.34" height="33.33" fill="#0000FF" stroke="#000" stroke-width="2.3"/>
<rect x="379.73" y="1030.33" width="14.34" height="66.67" fill="#50FFFF" stroke="#000" stroke-width="1.15"/>
<rect x="395.66" y="1063.67" width="14.34" height="33.33" fill="#0000FF" stroke="#000" stroke-width="2.3"/>
<rect x="411.60" y="1030.33" width="14.34" height="66.67" fill="#50FFFF" stroke="#000" stroke-width="1.15"/>
<rect x="427.54" y="1063.67" width="14.34" height="33.33" fill="#0000FF" stroke="#000" stroke-width="2.3"/>
<rect x="443.48" y="1063.67" width="14.34" height="33.33" fill="#0000FF" stroke="#000" stroke-width="2.3"/>
<rect x="459.41" y="963.67" width="14.34" height="133.33" fill="#55FF0A" stroke="#000" stroke-width="1.15"/>
<rect x="475.35" y="997.00" width="14.34" height="100.00" fill="#50FFFF" stroke="#000" stroke-width="1.15"/>
<rect x="491.29" y="1030.33" width="14.34" height="66.67" fill="#50FFFF" stroke="#000" stroke-width="1.15"/>
<rect x="507.23" y="1063.67" width="14.34" height="33.33" fill="#0000FF" stroke="#000" stroke-width="2.3"/>
<rect x="523.16" y="997.00" width="14.34" height="100.00" fill="#50FFFF" stroke="#000" stroke-width="1.15"/>
<rect x="539.10" y="997.00" width="14.34" height="100.00" fill="#50FFFF" stroke="#000" stroke-width="1.15"/>
<rect x="555.04" y="963.67" width="14.34" height="133.33" fill="#55FF0A" stroke="#000" stroke-width="1.15"/>
<rect x="570.98" y="997.00" width="14.34" height="100.00" fill="#50FFFF" stroke="#000" stroke-width="1.15"/>
<rect x="586.91" y="963.67" width="14.34" height="133.33" fill="#55FF0A" stroke="#000" stroke-width="1.15"/>
<rect x="602.85" y="1063.67" width="14.34" height="33.33" fill="#0000FF" stroke="#000" stroke-width="2.3"/>
<rect x="618.79" y="1030.33" width="14.34" height="66.67" fill="#50FFFF" stroke="#000" stroke-width="1.15"/>
<rect x="634.73" y="1063.67" width="14.34" height="33.33" fill="#0000FF" stroke="#000" stroke-width="2.3"/>
<rect x="650.66" y="997.00" width="14.34" height="100.00" fill="#50FFFF" stroke="#000" stroke-width="1.15"/>
<rect x="666.60" y="1097.00" width="14.34" height="0.00" fill="#0000FF" stroke="#000" stroke-width="2.3"/>
<rect x="682.54" y="1097.00" width="14.34" height="0.00" fill="#0000FF" stroke="#000" stroke-width="2.3"/>
<rect x="698.48" y="1097.00" width="14.34" height="0.00" fill="#0000FF" stroke="#000" stroke-width="2.3"/>
<rect x="714.41" y="997.00" width="14.34" height="100.00" fill="#50FFFF" stroke="#000" stroke-width="1.15"/>
<rect x="730.35" y="797.00" width="14.34" height="300.00" fill="#FF00FF" stroke="#000" stroke-width="2.3"/>
<rect x="746.29" y="863.67" width="14.34" height="233.33" fill="#FF0000" stroke="#000" stroke-width="1.15"/>
<rect x="762.23" y="897.00" width="14.34" height="200.00" fill="#FF0000" stroke="#000" stroke-width="1.15"/>
<rect x="778.16" y="930.33" width="14.34" height="166.67" fill="#FF9E0A" stroke="#000" stroke-width="1.15"/>
<rect x="794.10" y="963.67" width="14.34" height="133.33" fill="#55FF0A" stroke="#000" stroke-width="1.15"/>
<rect x="810.04" y="963.67" width="14.34" height="133.33" fill="#55FF0A" stroke="#000" stroke-width="1.15"/>
<rect x="825.98" y="930.33" width="14.34" height="166.67" fill="#FF9E0A" stroke="#000" stroke-width="1.15"/>
<rect x="841.91" y="997.00" width="14.34" height="100.00" fill="#50FFFF" stroke="#000" stroke-width="1.15"/>
<rect x="857.85" y="930.33" width="14.34" height="166.67" fill="#FF9E0A" stroke="#000" stroke-width="1.15"/>
<rect x="873.79" y="930.33" width="14.34" height="166.67" fill="#FF9E0A" stroke="#000" stroke-width="1.15"/>
<rect x="889.73" y="897.00" width="14.34" height="200.00" fill="#FF0000" stroke="#000" stroke-width="1.15"/>
<rect x="905.66" y="1030.33" width="14.34" height="66.67" fill="#50FFFF" stroke="#000" stroke-width="1.15"/>
<rect x="921.60" y="963.67" width="14.34" height="133.33" fill="#55FF0A" stroke="#000" stroke-width="1.15"/>
<rect x="937.54" y="997.00" width="14.34" height="100.00" fill="#50FFFF" stroke="#000" stroke-width="1.15"/>
<rect x="953.48" y="997.00" width="14.34" height="100.00" fill="#50FFFF" stroke="#000" stroke-width="1.15"/>
<rect x="969.41" y="1097.00" width="14.34" height="0.00" fill="#0000FF" stroke="#000" stroke-width="2.3"/>
<rect x="985.35" y="1097.00" width="14.34" height="0.00" fill="#0000FF" stroke="#000" stroke-width="2.3"/>
<rect x="1001.29" y="1063.67" width="14.34" height="33.33" fill="#0000FF" stroke="#000" stroke-width="2.3"/>
<rect x="1017.23" y="1063.67" width="14.34" height="33.33" fill="#0000FF" stroke="#000" stroke-width="2.3"/>
<rect x="1033.16" y="1063.67" width="14.34" height="33.33" fill="#0000FF" stroke="#000" stroke-width="2.3"/>
<rect x="1049.10" y="1063.67" width="14.34" height="33.33" fill="#0000FF" stroke="#000" stroke-width="2.3"/>
<rect x="1065.04" y="1097.00" width="14.34" height="0.00" fill="#0000FF" stroke="#000" stroke-width="2.3"/>
<rect x="1080.97" y="1097.00" width="14.34" height="0.00" fill="#0000FF" stroke="#000" stroke-width="2.3"/>
<path d="M81.0,1097.00H92.0M1112.0,1097.00H1123.0M86.0,1085.89H92.0M1112.0,1085.89H1118.0M86.0,1074.78H92.0M1112.0,1074.78H1118.0M81.0,1063.67H92.0M1112.0,1063.67H1123.0M81.0,1030.33H92.0M1112.0,1030.33H1123.0M86.0,1019.22H92.0M1112.0,1019.22H1118.0M86.0,1008.11H92.0M1112.0,1008.11H1118.0M81.0,997.00H92.0M1112.0,997.00H1123.0M86.0,985.89H92.0M1112.0,985.89H1118.0M86.0,974.78H92.0M1112.0,974.78H1118.0M81.0,963.67H92.0M1112.0,963.67H1123.0M81.0,930.33H92.0M1112.0,930.33H1123.0M86.0,919.22H92.0M1112.0,919.22H1118.0M86.0,908.11H92.0M1112.0,908.11H1118.0M81.0,897.00H92.0M1112.0,897.00H1123.0M86.0,885.89H92.0M1112.0,885.89H1118.0M86.0,874.78H92.0M1112.0,874.78H1118.0M81.0,863.67H92.0M1112.0,863.67H1123.0M81.0,830.33H92.0M1112.0,830.33H1123.0M86.0,819.22H92.0M1112.0,819.22H1118.0M86.0,808.11H92.0M1112.0,808.11H1118.0M81.0,797.00H92.0M1112.0,797.00H1123.0M92.00,786.0V797.0M92.00,1097.0V1108.0M107.94,790.6V797.0M107.94,1097.0V1103.4M123.88,790.6V797.0M123.88,1097.0V1103.4M139.81,790.6V797.0M139.81,1097.0V1103.4M155.75,790.6V797.0M155.75,1097.0V1103.4M171.69,790.6V797.0M171.69,1097.0V1103.4M187.62,790.6V797.0M187.62,1097.0V1103.4M251.38,790.6V797.0M251.38,1097.0V1103.4M267.31,790.6V797.0M267.31,1097.0V1103.4M283.25,790.6V797.0M283.25,1097.0V1103.4M299.19,790.6V797.0M299.19,1097.0V1103.4M315.12,790.6V797.0M315.12,1097.0V1103.4M331.06,790.6V797.0M331.06,1097.0V1103.4M347.00,786.0V797.0M347.00,1097.0V1108.0M362.94,790.6V797.0M362.94,1097.0V1103.4M378.88,790.6V797.0M378.88,1097.0V1103.4M394.81,790.6V797.0M394.81,1097.0V1103.4M410.75,790.6V797.0M410.75,1097.0V1103.4M426.69,790.6V797.0M426.69,1097.0V1103.4M442.62,790.6V797.0M442.62,1097.0V1103.4M506.38,790.6V797.0M506.38,1097.0V1103.4M522.31,790.6V797.0M522.31,1097.0V1103.4M538.25,790.6V797.0M538.25,1097.0V1103.4M554.19,790.6V797.0M554.19,1097.0V1103.4M570.12,790.6V797.0M570.12,1097.0V1103.4M586.06,790.6V797.0M586.06,1097.0V1103.4M602.00,786.0V797.0M602.00,1097.0V1108.0M617.94,790.6V797.0M617.94,1097.0V1103.4M633.88,790.6V797.0M633.88,1097.0V1103.4M649.81,790.6V797.0M649.81,1097.0V1103.4M665.75,790.6V797.0M665.75,1097.0V1103.4M681.69,790.6V797.0M681.69,1097.0V1103.4M697.62,790.6V797.0M697.62,1097.0V1103.4M761.38,790.6V797.0M761.38,1097.0V1103.4M777.31,790.6V797.0M777.31,1097.0V1103.4M793.25,790.6V797.0M793.25,1097.0V1103.4M809.19,790.6V797.0M809.19,1097.0V1103.4M825.12,790.6V797.0M825.12,1097.0V1103.4M841.06,790.6V797.0M841.06,1097.0V1103.4M857.00,786.0V797.0M857.00,1097.0V1108.0M872.94,790.6V797.0M872.94,1097.0V1103.4M888.88,790.6V797.0M888.88,1097.0V1103.4M904.81,790.6V797.0M904.81,1097.0V1103.4M920.75,790.6V797.0M920.75,1097.0V1103.4M936.69,790.6V797.0M936.69,1097.0V1103.4M952.62,790.6V797.0M952.62,1097.0V1103.4M1016.38,790.6V797.0M1016.38,1097.0V1103.4M1032.31,790.6V797.0M1032.31,1097.0V1103.4M1048.25,790.6V797.0M1048.25,1097.0V1103.4M1064.19,790.6V797.0M1064.19,1097.0V1103.4M1080.12,790.6V797.0M1080.12,1097.0V1103.4M1096.06,790.6V797.0M1096.06,1097.0V1103.4M1112.00,786.0V797.0M1112.00,1097.0V1108.0" stroke="#000" stroke-width="2" fill="none"/>
<path d="M86.0,1052.56H92.0M1112.0,1052.56H1118.0M86.0,1041.44H92.0M1112.0,1041.44H1118.0M86.0,952.56H92.0M1112.0,952.56H1118.0M86.0,941.44H92.0M1112.0,941.44H1118.0M86.0,852.56H92.0M1112.0,852.56H1118.0M86.0,841.44H92.0M1112.0,841.44H1118.0M203.56,790.6V797.0M203.56,1097.0V1103.4M219.50,786.0V797.0M219.50,1097.0V1108.0M235.44,790.6V797.0M235.44,1097.0V1103.4M458.56,790.6V797.0M458.56,1097.0V1103.4M474.50,786.0V797.0M474.50,1097.0V1108.0M490.44,790.6V797.0M490.44,1097.0V1103.4M713.56,790.6V797.0M713.56,1097.0V1103.4M729.50,786.0V797.0M729.50,1097.0V1108.0M745.44,790.6V797.0M745.44,1097.0V1103.4M968.56,790.6V797.0M968.56,1097.0V1103.4M984.50,786.0V797.0M984.50,1097.0V1108.0M1000.44,790.6V797.0M1000.44,1097.0V1103.4" stroke="#000" stroke-width="1.15" fill="none"/>
<path d="M92.0,795.1V1098.9M1112.0,795.1V1098.9" stroke="#000" stroke-width="3.8" fill="none"/>
<path d="M90.2,797.0H1113.8M90.2,1097.0H1113.8" stroke="#000" stroke-width="3.8" fill="none"/>
<text x="70.1" y="1105.20" text-anchor="end" stroke="#000" stroke-width="0.9" font-family='"Liberation Sans", Arial, Helvetica, sans-serif' font-weight="bold" font-size="24">0</text>
<text x="1133.0" y="1105.20" stroke="#000" stroke-width="0.9" font-family='"Liberation Sans", Arial, Helvetica, sans-serif' font-weight="bold" font-size="24">0</text>
<text x="70.1" y="1071.87" text-anchor="end" stroke="#000" stroke-width="0.9" font-family='"Liberation Sans", Arial, Helvetica, sans-serif' font-weight="bold" font-size="24">1</text>
<text x="1133.0" y="1071.87" stroke="#000" stroke-width="0.9" font-family='"Liberation Sans", Arial, Helvetica, sans-serif' font-weight="bold" font-size="24">1</text>
<text x="70.1" y="1038.53" text-anchor="end" stroke="#000" stroke-width="0.9" font-family='"Liberation Sans", Arial, Helvetica, sans-serif' font-weight="bold" font-size="24">2</text>
<text x="1133.0" y="1038.53" stroke="#000" stroke-width="0.9" font-family='"Liberation Sans", Arial, Helvetica, sans-serif' font-weight="bold" font-size="24">2</text>
<text x="70.1" y="1005.20" text-anchor="end" stroke="#000" stroke-width="0.9" font-family='"Liberation Sans", Arial, Helvetica, sans-serif' font-weight="bold" font-size="24">3</text>
<text x="1133.0" y="1005.20" stroke="#000" stroke-width="0.9" font-family='"Liberation Sans", Arial, Helvetica, sans-serif' font-weight="bold" font-size="24">3</text>
<text x="70.1" y="971.87" text-anchor="end" stroke="#000" stroke-width="0.9" font-family='"Liberation Sans", Arial, Helvetica, sans-serif' font-weight="bold" font-size="24">4</text>
<text x="1133.0" y="971.87" stroke="#000" stroke-width="0.9" font-family='"Liberation Sans", Arial, Helvetica, sans-serif' font-weight="bold" font-size="24">4</text>
<text x="70.1" y="938.53" text-anchor="end" stroke="#000" stroke-width="0.9" font-family='"Liberation Sans", Arial, Helvetica, sans-serif' font-weight="bold" font-size="24">5</text>
<text x="1133.0" y="938.53" stroke="#000" stroke-width="0.9" font-family='"Liberation Sans", Arial, Helvetica, sans-serif' font-weight="bold" font-size="24">5</text>
<text x="70.1" y="905.20" text-anchor="end" stroke="#000" stroke-width="0.9" font-family='"Liberation Sans", Arial, Helvetica, sans-serif' font-weight="bold" font-size="24">6</text>
<text x="1133.0" y="905.20" stroke="#000" stroke-width="0.9" font-family='"Liberation Sans", Arial, Helvetica, sans-serif' font-weight="bold" font-size="24">6</text>
<text x="70.1" y="871.87" text-anchor="end" stroke="#000" stroke-width="0.9" font-family='"Liberation Sans", Arial, Helvetica, sans-serif' font-weight="bold" font-size="24">7</text>
<text x="1133.0" y="871.87" stroke="#000" stroke-width="0.9" font-family='"Liberation Sans", Arial, Helvetica, sans-serif' font-weight="bold" font-size="24">7</text>
<text x="70.1" y="838.53" text-anchor="end" stroke="#000" stroke-width="0.9" font-family='"Liberation Sans", Arial, Helvetica, sans-serif' font-weight="bold" font-size="24">8</text>
<text x="1133.0" y="838.53" stroke="#000" stroke-width="0.9" font-family='"Liberation Sans", Arial, Helvetica, sans-serif' font-weight="bold" font-size="24">8</text>
<text x="70.1" y="805.20" text-anchor="end" stroke="#000" stroke-width="0.9" font-family='"Liberation Sans", Arial, Helvetica, sans-serif' font-weight="bold" font-size="24">9</text>
<text x="1133.0" y="805.20" stroke="#000" stroke-width="0.9" font-family='"Liberation Sans", Arial, Helvetica, sans-serif' font-weight="bold" font-size="24">9</text>
<line x1="1149.2" y1="797.0" x2="1163" y2="797.0" stroke="#000" stroke-width="3"/>
<text x="1163.2" y="803.6" stroke="#000" stroke-width="0.5" font-family='"Liberation Serif", "DejaVu Serif", serif' font-weight="bold" font-size="22.8" textLength="27" lengthAdjust="spacingAndGlyphs">G5</text>
<line x1="1126.3" y1="844.6" x2="1161.2" y2="844.6" stroke="#000" stroke-width="2.5"/>
<text x="1160.8" y="851.2" stroke="#000" stroke-width="0.5" font-family='"Liberation Serif", "DejaVu Serif", serif' font-weight="bold" font-size="22.8" textLength="27" lengthAdjust="spacingAndGlyphs">G4</text>
<line x1="1126.3" y1="875.4" x2="1161.2" y2="875.4" stroke="#000" stroke-width="2.5"/>
<text x="1160.8" y="882.0" stroke="#000" stroke-width="0.5" font-family='"Liberation Serif", "DejaVu Serif", serif' font-weight="bold" font-size="22.8" textLength="27" lengthAdjust="spacingAndGlyphs">G3</text>
<line x1="1126.3" y1="906.5" x2="1161.2" y2="906.5" stroke="#000" stroke-width="2.5"/>
<text x="1160.8" y="913.1" stroke="#000" stroke-width="0.5" font-family='"Liberation Serif", "DejaVu Serif", serif' font-weight="bold" font-size="22.8" textLength="27" lengthAdjust="spacingAndGlyphs">G2</text>
<line x1="1126.3" y1="941.6" x2="1161.2" y2="941.6" stroke="#000" stroke-width="2.5"/>
<text x="1160.8" y="948.2" stroke="#000" stroke-width="0.5" font-family='"Liberation Serif", "DejaVu Serif", serif' font-weight="bold" font-size="22.8" textLength="27" lengthAdjust="spacingAndGlyphs">G1</text>
<text x="154.75" y="1127.5" text-anchor="middle" stroke="#000" stroke-width="0.8" font-family='"Liberation Serif", "DejaVu Serif", serif' font-weight="bold" font-size="21.6" textLength="97.5" lengthAdjust="spacingAndGlyphs">07-11-2025</text>
<text x="282.25" y="1127.5" text-anchor="middle" stroke="#000" stroke-width="0.8" font-family='"Liberation Serif", "DejaVu Serif", serif' font-weight="bold" font-size="21.6" textLength="97.5" lengthAdjust="spacingAndGlyphs">08-11-2025</text>
<text x="409.75" y="1127.5" text-anchor="middle" stroke="#000" stroke-width="0.8" font-family='"Liberation Serif", "DejaVu Serif", serif' font-weight="bold" font-size="21.6" textLength="97.5" lengthAdjust="spacingAndGlyphs">09-11-2025</text>
<text x="537.25" y="1127.5" text-anchor="middle" stroke="#000" stroke-width="0.8" font-family='"Liberation Serif", "DejaVu Serif", serif' font-weight="bold" font-size="21.6" textLength="97.5" lengthAdjust="spacingAndGlyphs">10-11-2025</text>
<text x="664.75" y="1127.5" text-anchor="middle" stroke="#000" stroke-width="0.8" font-family='"Liberation Serif", "DejaVu Serif", serif' font-weight="bold" font-size="21.6" textLength="97.5" lengthAdjust="spacingAndGlyphs">11-11-2025</text>
<text x="792.25" y="1127.5" text-anchor="middle" stroke="#000" stroke-width="0.8" font-family='"Liberation Serif", "DejaVu Serif", serif' font-weight="bold" font-size="21.6" textLength="97.5" lengthAdjust="spacingAndGlyphs">12-11-2025</text>
<text x="919.75" y="1127.5" text-anchor="middle" stroke="#000" stroke-width="0.8" font-family='"Liberation Serif", "DejaVu Serif", serif' font-weight="bold" font-size="21.6" textLength="97.5" lengthAdjust="spacingAndGlyphs">13-11-2025</text>
<text x="1047.25" y="1127.5" text-anchor="middle" stroke="#000" stroke-width="0.8" font-family='"Liberation Serif", "DejaVu Serif", serif' font-weight="bold" font-size="21.6" textLength="97.5" lengthAdjust="spacingAndGlyphs">14-11-2025</text>
<text transform="translate(41.2,1010.4) rotate(-90)" stroke="#000" stroke-width="0.6" font-family='"Liberation Sans", Arial, Helvetica, sans-serif' font-weight="bold" font-size="24" textLength="126" lengthAdjust="spacingAndGlyphs" xml:space="preserve">3 Hourly <tspan font-family='"Liberation Serif", "DejaVu Serif", serif' font-style="italic">K</tspan></text>
</g>
<g>
<text x="617.3" y="1164.6" text-anchor="middle" stroke="#000" stroke-width="0.5" font-family='"Liberation Serif", "DejaVu Serif", serif' font-weight="bold" font-size="23.6" textLength="345" lengthAdjust="spacingAndGlyphs" xml:space="preserve">Estimated Planetary <tspan font-style="italic">K</tspan> Index (<tspan font-style="italic">Kp</tspan>)</text>
<line x1="1112.0" y1="1224.00" x2="92.0" y2="1224.00" stroke="#EC14EC" stroke-width="4" stroke-dasharray="6 4"/>
<line x1="1112.0" y1="1290.50" x2="92.0" y2="1290.50" stroke="#E61212" stroke-width="5" stroke-dasharray="6 4"/>
<line x1="1112.0" y1="1324.00" x2="92.0" y2="1324.00" stroke="#F89A0C" stroke-width="4" stroke-dasharray="6 4"/>
<line x1="1112.0" y1="1368.50" x2="92.0" y2="1368.50" stroke="#66E61E" stroke-width="5" stroke-dasharray="6 4"/>
<line x1="1112.0" y1="1413.00" x2="92.0" y2="1413.00" stroke="#66ECEC" stroke-width="4" stroke-dasharray="6 4"/>
<line x1="219.5" y1="1179.5" x2="219.5" y2="1479.5" stroke="#000" stroke-width="3" stroke-dasharray="6 4"/>
<line x1="347.0" y1="1179.5" x2="347.0" y2="1479.5" stroke="#000" stroke-width="2" stroke-dasharray="6 4"/>
<line x1="474.5" y1="1179.5" x2="474.5" y2="1479.5" stroke="#000" stroke-width="3" stroke-dasharray="6 4"/>
<line x1="602.0" y1="1179.5" x2="602.0" y2="1479.5" stroke="#000" stroke-width="2" stroke-dasharray="6 4"/>
<line x1="729.5" y1="1179.5" x2="729.5" y2="1479.5" stroke="#000" stroke-width="3" stroke-dasharray="6 4"/>
<line x1="857.0" y1="1179.5" x2="857.0" y2="1479.5" stroke="#000" stroke-width="2" stroke-dasharray="6 4"/>
<line x1="984.5" y1="1179.5" x2="984.5" y2="1479.5" stroke="#000" stroke-width="3" stroke-dasharray="6 4"/>
<rect x="92.85" y="1301.72" width="14.34" height="177.78" fill="#FF9E0A" stroke="#000" stroke-width="1.15"/>
<rect x="108.79" y="1290.61" width="14.34" height="188.89" fill="#FF0000" stroke="#000" stroke-width="1.15"/>
<rect x="124.72" y="1312.83" width="14.34" height="166.67" fill="#FF9E0A" stroke="#000" stroke-width="1.15"/>
<rect x="140.66" y="1346.17" width="14.34" height="133.33" fill="#55FF0A" stroke="#000" stroke-width="1.15"/>
<rect x="156.60" y="1368.39" width="14.34" height="111.11" fill="#55FF0A" stroke="#000" stroke-width="1.15"/>
<rect x="172.54" y="1390.61" width="14.34" height="88.89" fill="#50FFFF" stroke="#000" stroke-width="1.15"/>
<rect x="188.47" y="1368.39" width="14.34" height="111.11" fill="#55FF0A" stroke="#000" stroke-width="1.15"/>
<rect x="204.41" y="1379.50" width="14.34" height="100.00" fill="#50FFFF" stroke="#000" stroke-width="1.15"/>
<rect x="220.35" y="1279.50" width="14.34" height="200.00" fill="#FF0000" stroke="#000" stroke-width="1.15"/>
<rect x="236.29" y="1312.83" width="14.34" height="166.67" fill="#FF9E0A" stroke="#000" stroke-width="1.15"/>
<rect x="252.22" y="1312.83" width="14.34" height="166.67" fill="#FF9E0A" stroke="#000" stroke-width="1.15"/>
<rect x="268.16" y="1357.28" width="14.34" height="122.22" fill="#55FF0A" stroke="#000" stroke-width="1.15"/>
<rect x="284.10" y="1357.28" width="14.34" height="122.22" fill="#55FF0A" stroke="#000" stroke-width="1.15"/>
<rect x="300.04" y="1368.39" width="14.34" height="111.11" fill="#55FF0A" stroke="#000" stroke-width="1.15"/>
<rect x="315.98" y="1390.61" width="14.34" height="88.89" fill="#50FFFF" stroke="#000" stroke-width="1.15"/>
<rect x="331.91" y="1435.06" width="14.34" height="44.44" fill="#0000FF" stroke="#000" stroke-width="2.3"/>
<rect x="347.85" y="1423.94" width="14.34" height="55.56" fill="#0000FF" stroke="#000" stroke-width="2.3"/>
<rect x="363.79" y="1435.06" width="14.34" height="44.44" fill="#0000FF" stroke="#000" stroke-width="2.3"/>
<rect x="379.73" y="1390.61" width="14.34" height="88.89" fill="#50FFFF" stroke="#000" stroke-width="1.15"/>
<rect x="395.66" y="1457.28" width="14.34" height="22.22" fill="#0000FF" stroke="#000" stroke-width="2.3"/>
<rect x="411.60" y="1412.83" width="14.34" height="66.67" fill="#50FFFF" stroke="#000" stroke-width="1.15"/>
<rect x="427.54" y="1446.17" width="14.34" height="33.33" fill="#0000FF" stroke="#000" stroke-width="2.3"/>
<rect x="443.48" y="1446.17" width="14.34" height="33.33" fill="#0000FF" stroke="#000" stroke-width="2.3"/>
<rect x="459.41" y="1379.50" width="14.34" height="100.00" fill="#50FFFF" stroke="#000" stroke-width="1.15"/>
<rect x="475.35" y="1390.61" width="14.34" height="88.89" fill="#50FFFF" stroke="#000" stroke-width="1.15"/>
<rect x="491.29" y="1390.61" width="14.34" height="88.89" fill="#50FFFF" stroke="#000" stroke-width="1.15"/>
<rect x="507.23" y="1446.17" width="14.34" height="33.33" fill="#0000FF" stroke="#000" stroke-width="2.3"/>
<rect x="523.16" y="1379.50" width="14.34" height="100.00" fill="#50FFFF" stroke="#000" stroke-width="1.15"/>
<rect x="539.10" y="1379.50" width="14.34" height="100.00" fill="#50FFFF" stroke="#000" stroke-width="1.15"/>
<rect x="555.04" y="1335.06" width="14.34" height="144.44" fill="#55FF0A" stroke="#000" stroke-width="1.15"/>
<rect x="570.98" y="1390.61" width="14.34" height="88.89" fill="#50FFFF" stroke="#000" stroke-width="1.15"/>
<rect x="586.91" y="1346.17" width="14.34" height="133.33" fill="#55FF0A" stroke="#000" stroke-width="1.15"/>
<rect x="602.85" y="1423.94" width="14.34" height="55.56" fill="#0000FF" stroke="#000" stroke-width="2.3"/>
<rect x="618.79" y="1390.61" width="14.34" height="88.89" fill="#50FFFF" stroke="#000" stroke-width="1.15"/>
<rect x="634.73" y="1446.17" width="14.34" height="33.33" fill="#0000FF" stroke="#000" stroke-width="2.3"/>
<rect x="650.66" y="1379.50" width="14.34" height="100.00" fill="#50FFFF" stroke="#000" stroke-width="1.15"/>
<rect x="666.60" y="1457.28" width="14.34" height="22.22" fill="#0000FF" stroke="#000" stroke-width="2.3"/>
<rect x="682.54" y="1468.39" width="14.34" height="11.11" fill="#0000FF" stroke="#000" stroke-width="2.3"/>
<rect x="698.48" y="1468.39" width="14.34" height="11.11" fill="#0000FF" stroke="#000" stroke-width="2.3"/>
<rect x="714.41" y="1401.72" width="14.34" height="77.78" fill="#50FFFF" stroke="#000" stroke-width="1.15"/>
<rect x="730.35" y="1190.61" width="14.34" height="288.89" fill="#FF00FF" stroke="#000" stroke-width="2.3"/>
<rect x="746.29" y="1201.72" width="14.34" height="277.78" fill="#FF00FF" stroke="#000" stroke-width="2.3"/>
<rect x="762.23" y="1235.06" width="14.34" height="244.44" fill="#FF0000" stroke="#000" stroke-width="1.15"/>
<rect x="778.16" y="1235.06" width="14.34" height="244.44" fill="#FF0000" stroke="#000" stroke-width="1.15"/>
<rect x="794.10" y="1312.83" width="14.34" height="166.67" fill="#FF9E0A" stroke="#000" stroke-width="1.15"/>
<rect x="810.04" y="1346.17" width="14.34" height="133.33" fill="#55FF0A" stroke="#000" stroke-width="1.15"/>
<rect x="825.98" y="1312.83" width="14.34" height="166.67" fill="#FF9E0A" stroke="#000" stroke-width="1.15"/>
<rect x="841.91" y="1357.28" width="14.34" height="122.22" fill="#55FF0A" stroke="#000" stroke-width="1.15"/>
<rect x="857.85" y="1257.28" width="14.34" height="222.22" fill="#FF0000" stroke="#000" stroke-width="1.15"/>
<rect x="873.79" y="1246.17" width="14.34" height="233.33" fill="#FF0000" stroke="#000" stroke-width="1.15"/>
<rect x="889.73" y="1246.17" width="14.34" height="233.33" fill="#FF0000" stroke="#000" stroke-width="1.15"/>
<rect x="905.66" y="1357.28" width="14.34" height="122.22" fill="#55FF0A" stroke="#000" stroke-width="1.15"/>
<rect x="921.60" y="1323.94" width="14.34" height="155.56" fill="#FF9E0A" stroke="#000" stroke-width="1.15"/>
<rect x="937.54" y="1368.39" width="14.34" height="111.11" fill="#55FF0A" stroke="#000" stroke-width="1.15"/>
<rect x="953.48" y="1390.61" width="14.34" height="88.89" fill="#50FFFF" stroke="#000" stroke-width="1.15"/>
<rect x="969.41" y="1457.28" width="14.34" height="22.22" fill="#0000FF" stroke="#000" stroke-width="2.3"/>
<rect x="985.35" y="1457.28" width="14.34" height="22.22" fill="#0000FF" stroke="#000" stroke-width="2.3"/>
<rect x="1001.29" y="1468.39" width="14.34" height="11.11" fill="#0000FF" stroke="#000" stroke-width="2.3"/>
<rect x="1017.23" y="1457.28" width="14.34" height="22.22" fill="#0000FF" stroke="#000" stroke-width="2.3"/>
<rect x="1033.16" y="1446.17" width="14.34" height="33.33" fill="#0000FF" stroke="#000" stroke-width="2.3"/>
<rect x="1049.10" y="1457.28" width="14.34" height="22.22" fill="#0000FF" stroke="#000" stroke-width="2.3"/>
<rect x="1065.04" y="1479.50" width="14.34" height="0.00" fill="#0000FF" stroke="#000" stroke-width="2.3"/>
<rect x="1080.97" y="1479.50" width="14.34" height="0.00" fill="#0000FF" stroke="#000" stroke-width="2.3"/>
<path d="M86.0,1468.39H92.0M1112.0,1468.39H1118.0M86.0,1457.28H92.0M1112.0,1457.28H1118.0M81.0,1446.17H92.0M1112.0,1446.17H1123.0M86.0,1435.06H92.0M1112.0,1435.06H1118.0M86.0,1423.94H92.0M1112.0,1423.94H1118.0M81.0,1412.83H92.0M1112.0,1412.83H1123.0M86.0,1401.72H92.0M1112.0,1401.72H1118.0M86.0,1390.61H92.0M1112.0,1390.61H1118.0M86.0,1368.39H92.0M1112.0,1368.39H1118.0M86.0,1357.28H92.0M1112.0,1357.28H1118.0M81.0,1346.17H92.0M1112.0,1346.17H1123.0M86.0,1335.06H92.0M1112.0,1335.06H1118.0M86.0,1323.94H92.0M1112.0,1323.94H1118.0M81.0,1312.83H92.0M1112.0,1312.83H1123.0M86.0,1301.72H92.0M1112.0,1301.72H1118.0M86.0,1290.61H92.0M1112.0,1290.61H1118.0M86.0,1268.39H92.0M1112.0,1268.39H1118.0M86.0,1257.28H92.0M1112.0,1257.28H1118.0M81.0,1246.17H92.0M1112.0,1246.17H1123.0M86.0,1235.06H92.0M1112.0,1235.06H1118.0M86.0,1223.94H92.0M1112.0,1223.94H1118.0M81.0,1212.83H92.0M1112.0,1212.83H1123.0M86.0,1201.72H92.0M1112.0,1201.72H1118.0M86.0,1190.61H92.0M1112.0,1190.61H1118.0M92.00,1168.5V1179.5M92.00,1479.5V1490.5M107.94,1173.1V1179.5M107.94,1479.5V1485.9M123.88,1173.1V1179.5M123.88,1479.5V1485.9M139.81,1173.1V1179.5M139.81,1479.5V1485.9M155.75,1173.1V1179.5M155.75,1479.5V1485.9M171.69,1173.1V1179.5M171.69,1479.5V1485.9M187.62,1173.1V1179.5M187.62,1479.5V1485.9M251.38,1173.1V1179.5M251.38,1479.5V1485.9M267.31,1173.1V1179.5M267.31,1479.5V1485.9M283.25,1173.1V1179.5M283.25,1479.5V1485.9M299.19,1173.1V1179.5M299.19,1479.5V1485.9M315.12,1173.1V1179.5M315.12,1479.5V1485.9M331.06,1173.1V1179.5M331.06,1479.5V1485.9M347.00,1168.5V1179.5M347.00,1479.5V1490.5M362.94,1173.1V1179.5M362.94,1479.5V1485.9M378.88,1173.1V1179.5M378.88,1479.5V1485.9M394.81,1173.1V1179.5M394.81,1479.5V1485.9M410.75,1173.1V1179.5M410.75,1479.5V1485.9M426.69,1173.1V1179.5M426.69,1479.5V1485.9M442.62,1173.1V1179.5M442.62,1479.5V1485.9M506.38,1173.1V1179.5M506.38,1479.5V1485.9M522.31,1173.1V1179.5M522.31,1479.5V1485.9M538.25,1173.1V1179.5M538.25,1479.5V1485.9M554.19,1173.1V1179.5M554.19,1479.5V1485.9M570.12,1173.1V1179.5M570.12,1479.5V1485.9M586.06,1173.1V1179.5M586.06,1479.5V1485.9M602.00,1168.5V1179.5M602.00,1479.5V1490.5M617.94,1173.1V1179.5M617.94,1479.5V1485.9M633.88,1173.1V1179.5M633.88,1479.5V1485.9M649.81,1173.1V1179.5M649.81,1479.5V1485.9M665.75,1173.1V1179.5M665.75,1479.5V1485.9M681.69,1173.1V1179.5M681.69,1479.5V1485.9M697.62,1173.1V1179.5M697.62,1479.5V1485.9M761.38,1173.1V1179.5M761.38,1479.5V1485.9M777.31,1173.1V1179.5M777.31,1479.5V1485.9M793.25,1173.1V1179.5M793.25,1479.5V1485.9M809.19,1173.1V1179.5M809.19,1479.5V1485.9M825.12,1173.1V1179.5M825.12,1479.5V1485.9M841.06,1173.1V1179.5M841.06,1479.5V1485.9M857.00,1168.5V1179.5M857.00,1479.5V1490.5M872.94,1173.1V1179.5M872.94,1479.5V1485.9M888.88,1173.1V1179.5M888.88,1479.5V1485.9M904.81,1173.1V1179.5M904.81,1479.5V1485.9M920.75,1173.1V1179.5M920.75,1479.5V1485.9M936.69,1173.1V1179.5M936.69,1479.5V1485.9M952.62,1173.1V1179.5M952.62,1479.5V1485.9M1016.38,1173.1V1179.5M1016.38,1479.5V1485.9M1032.31,1173.1V1179.5M1032.31,1479.5V1485.9M1048.25,1173.1V1179.5M1048.25,1479.5V1485.9M1064.19,1173.1V1179.5M1064.19,1479.5V1485.9M1080.12,1173.1V1179.5M1080.12,1479.5V1485.9M1096.06,1173.1V1179.5M1096.06,1479.5V1485.9M1112.00,1168.5V1179.5M1112.00,1479.5V1490.5" stroke="#000" stroke-width="2" fill="none"/>
<path d="M81.0,1479.50H92.0M1112.0,1479.50H1123.0M81.0,1379.50H92.0M1112.0,1379.50H1123.0M81.0,1279.50H92.0M1112.0,1279.50H1123.0M81.0,1179.50H92.0M1112.0,1179.50H1123.0M203.56,1173.1V1179.5M203.56,1479.5V1485.9M219.50,1168.5V1179.5M219.50,1479.5V1490.5M235.44,1173.1V1179.5M235.44,1479.5V1485.9M458.56,1173.1V1179.5M458.56,1479.5V1485.9M474.50,1168.5V1179.5M474.50,1479.5V1490.5M490.44,1173.1V1179.5M490.44,1479.5V1485.9M713.56,1173.1V1179.5M713.56,1479.5V1485.9M729.50,1168.5V1179.5M729.50,1479.5V1490.5M745.44,1173.1V1179.5M745.44,1479.5V1485.9M968.56,1173.1V1179.5M968.56,1479.5V1485.9M984.50,1168.5V1179.5M984.50,1479.5V1490.5M1000.44,1173.1V1179.5M1000.44,1479.5V1485.9" stroke="#000" stroke-width="1.15" fill="none"/>
<path d="M92.0,1177.15V1481.85M1112.0,1177.15V1481.85" stroke="#000" stroke-width="3.8" fill="none"/>
<path d="M90.2,1179.5H1113.8M90.2,1479.5H1113.8" stroke="#000" stroke-width="4.7" fill="none"/>
<text x="70.1" y="1487.70" text-anchor="end" stroke="#000" stroke-width="0.9" font-family='"Liberation Sans", Arial, Helvetica, sans-serif' font-weight="bold" font-size="24">0</text>
<text x="1133.0" y="1487.70" stroke="#000" stroke-width="0.9" font-family='"Liberation Sans", Arial, Helvetica, sans-serif' font-weight="bold" font-size="24">0</text>
<text x="70.1" y="1454.37" text-anchor="end" stroke="#000" stroke-width="0.9" font-family='"Liberation Sans", Arial, Helvetica, sans-serif' font-weight="bold" font-size="24">1</text>
<text x="1133.0" y="1454.37" stroke="#000" stroke-width="0.9" font-family='"Liberation Sans", Arial, Helvetica, sans-serif' font-weight="bold" font-size="24">1</text>
<text x="70.1" y="1421.03" text-anchor="end" stroke="#000" stroke-width="0.9" font-family='"Liberation Sans", Arial, Helvetica, sans-serif' font-weight="bold" font-size="24">2</text>
<text x="1133.0" y="1421.03" stroke="#000" stroke-width="0.9" font-family='"Liberation Sans", Arial, Helvetica, sans-serif' font-weight="bold" font-size="24">2</text>
<text x="70.1" y="1387.70" text-anchor="end" stroke="#000" stroke-width="0.9" font-family='"Liberation Sans", Arial, Helvetica, sans-serif' font-weight="bold" font-size="24">3</text>
<text x="1133.0" y="1387.70" stroke="#000" stroke-width="0.9" font-family='"Liberation Sans", Arial, Helvetica, sans-serif' font-weight="bold" font-size="24">3</text>
<text x="70.1" y="1354.37" text-anchor="end" stroke="#000" stroke-width="0.9" font-family='"Liberation Sans", Arial, Helvetica, sans-serif' font-weight="bold" font-size="24">4</text>
<text x="1133.0" y="1354.37" stroke="#000" stroke-width="0.9" font-family='"Liberation Sans", Arial, Helvetica, sans-serif' font-weight="bold" font-size="24">4</text>
<text x="70.1" y="1321.03" text-anchor="end" stroke="#000" stroke-width="0.9" font-family='"Liberation Sans", Arial, Helvetica, sans-serif' font-weight="bold" font-size="24">5</text>
<text x="1133.0" y="1321.03" stroke="#000" stroke-width="0.9" font-family='"Liberation Sans", Arial, Helvetica, sans-serif' font-weight="bold" font-size="24">5</text>
<text x="70.1" y="1287.70" text-anchor="end" stroke="#000" stroke-width="0.9" font-family='"Liberation Sans", Arial, Helvetica, sans-serif' font-weight="bold" font-size="24">6</text>
<text x="1133.0" y="1287.70" stroke="#000" stroke-width="0.9" font-family='"Liberation Sans", Arial, Helvetica, sans-serif' font-weight="bold" font-size="24">6</text>
<text x="70.1" y="1254.37" text-anchor="end" stroke="#000" stroke-width="0.9" font-family='"Liberation Sans", Arial, Helvetica, sans-serif' font-weight="bold" font-size="24">7</text>
<text x="1133.0" y="1254.37" stroke="#000" stroke-width="0.9" font-family='"Liberation Sans", Arial, Helvetica, sans-serif' font-weight="bold" font-size="24">7</text>
<text x="70.1" y="1221.03" text-anchor="end" stroke="#000" stroke-width="0.9" font-family='"Liberation Sans", Arial, Helvetica, sans-serif' font-weight="bold" font-size="24">8</text>
<text x="1133.0" y="1221.03" stroke="#000" stroke-width="0.9" font-family='"Liberation Sans", Arial, Helvetica, sans-serif' font-weight="bold" font-size="24">8</text>
<text x="70.1" y="1187.70" text-anchor="end" stroke="#000" stroke-width="0.9" font-family='"Liberation Sans", Arial, Helvetica, sans-serif' font-weight="bold" font-size="24">9</text>
<text x="1133.0" y="1187.70" stroke="#000" stroke-width="0.9" font-family='"Liberation Sans", Arial, Helvetica, sans-serif' font-weight="bold" font-size="24">9</text>
<line x1="1149.2" y1="1179.5" x2="1163" y2="1179.5" stroke="#000" stroke-width="3"/>
<text x="1163.2" y="1186.1" stroke="#000" stroke-width="0.5" font-family='"Liberation Serif", "DejaVu Serif", serif' font-weight="bold" font-size="22.8" textLength="27" lengthAdjust="spacingAndGlyphs">G5</text>
<line x1="1126.3" y1="1227.1" x2="1161.2" y2="1227.1" stroke="#000" stroke-width="2.5"/>
<text x="1160.8" y="1233.7" stroke="#000" stroke-width="0.5" font-family='"Liberation Serif", "DejaVu Serif", serif' font-weight="bold" font-size="22.8" textLength="27" lengthAdjust="spacingAndGlyphs">G4</text>
<line x1="1126.3" y1="1257.9" x2="1161.2" y2="1257.9" stroke="#000" stroke-width="2.5"/>
<text x="1160.8" y="1264.5" stroke="#000" stroke-width="0.5" font-family='"Liberation Serif", "DejaVu Serif", serif' font-weight="bold" font-size="22.8" textLength="27" lengthAdjust="spacingAndGlyphs">G3</text>
<line x1="1126.3" y1="1289.0" x2="1161.2" y2="1289.0" stroke="#000" stroke-width="2.5"/>
<text x="1160.8" y="1295.6" stroke="#000" stroke-width="0.5" font-family='"Liberation Serif", "DejaVu Serif", serif' font-weight="bold" font-size="22.8" textLength="27" lengthAdjust="spacingAndGlyphs">G2</text>
<line x1="1126.3" y1="1324.1" x2="1161.2" y2="1324.1" stroke="#000" stroke-width="2.5"/>
<text x="1160.8" y="1330.7" stroke="#000" stroke-width="0.5" font-family='"Liberation Serif", "DejaVu Serif", serif' font-weight="bold" font-size="22.8" textLength="27" lengthAdjust="spacingAndGlyphs">G1</text>
<text x="154.75" y="1510.0" text-anchor="middle" stroke="#000" stroke-width="0.8" font-family='"Liberation Serif", "DejaVu Serif", serif' font-weight="bold" font-size="21.6" textLength="97.5" lengthAdjust="spacingAndGlyphs">07-11-2025</text>
<text x="282.25" y="1510.0" text-anchor="middle" stroke="#000" stroke-width="0.8" font-family='"Liberation Serif", "DejaVu Serif", serif' font-weight="bold" font-size="21.6" textLength="97.5" lengthAdjust="spacingAndGlyphs">08-11-2025</text>
<text x="409.75" y="1510.0" text-anchor="middle" stroke="#000" stroke-width="0.8" font-family='"Liberation Serif", "DejaVu Serif", serif' font-weight="bold" font-size="21.6" textLength="97.5" lengthAdjust="spacingAndGlyphs">09-11-2025</text>
<text x="537.25" y="1510.0" text-anchor="middle" stroke="#000" stroke-width="0.8" font-family='"Liberation Serif", "DejaVu Serif", serif' font-weight="bold" font-size="21.6" textLength="97.5" lengthAdjust="spacingAndGlyphs">10-11-2025</text>
<text x="664.75" y="1510.0" text-anchor="middle" stroke="#000" stroke-width="0.8" font-family='"Liberation Serif", "DejaVu Serif", serif' font-weight="bold" font-size="21.6" textLength="97.5" lengthAdjust="spacingAndGlyphs">11-11-2025</text>
<text x="792.25" y="1510.0" text-anchor="middle" stroke="#000" stroke-width="0.8" font-family='"Liberation Serif", "DejaVu Serif", serif' font-weight="bold" font-size="21.6" textLength="97.5" lengthAdjust="spacingAndGlyphs">12-11-2025</text>
<text x="919.75" y="1510.0" text-anchor="middle" stroke="#000" stroke-width="0.8" font-family='"Liberation Serif", "DejaVu Serif", serif' font-weight="bold" font-size="21.6" textLength="97.5" lengthAdjust="spacingAndGlyphs">13-11-2025</text>
<text x="1047.25" y="1510.0" text-anchor="middle" stroke="#000" stroke-width="0.8" font-family='"Liberation Serif", "DejaVu Serif", serif' font-weight="bold" font-size="21.6" textLength="97.5" lengthAdjust="spacingAndGlyphs">14-11-2025</text>
<text transform="translate(41.2,1398.3) rotate(-90)" stroke="#000" stroke-width="0.6" font-family='"Liberation Sans", Arial, Helvetica, sans-serif' font-weight="bold" font-size="24" textLength="138" lengthAdjust="spacingAndGlyphs" xml:space="preserve">3 Hourly <tspan font-family='"Liberation Serif", "DejaVu Serif", serif' font-style="italic">Kp</tspan></text>
</g>
<text x="202.6" y="1577.1" text-anchor="end" fill="#000" stroke="#000" stroke-width="0.6" font-family='"Liberation Serif", "DejaVu Serif", serif' font-weight="bold" font-style="normal" font-size="29.6" textLength="143.5" lengthAdjust="spacingAndGlyphs">BGS Scale:</text>
<text x="202.6" y="1615.0" text-anchor="end" fill="#000" stroke="#000" stroke-width="0.6" font-family='"Liberation Serif", "DejaVu Serif", serif' font-weight="bold" font-style="normal" font-size="29.6" textLength="175.5" lengthAdjust="spacingAndGlyphs">NOAA Scale:</text>
<text x="273" y="1577.4" text-anchor="middle" fill="#0000E0" stroke="#0000E0" stroke-width="0.6" font-family='"Liberation Serif", "DejaVu Serif", serif' font-weight="bold" font-style="italic" font-size="31" textLength="72.5" lengthAdjust="spacingAndGlyphs">Quiet</text>
<text x="273" y="1615.3" text-anchor="middle" fill="#0000E0" stroke="#0000E0" stroke-width="0.6" font-family='"Liberation Serif", "DejaVu Serif", serif' font-weight="bold" font-style="italic" font-size="31" textLength="36.5" lengthAdjust="spacingAndGlyphs">G0</text>
<text x="408.3" y="1577.4" text-anchor="middle" fill="#55F0FA" stroke="#55F0FA" stroke-width="0.6" font-family='"Liberation Serif", "DejaVu Serif", serif' font-weight="bold" font-style="italic" font-size="31" textLength="124.5" lengthAdjust="spacingAndGlyphs">Unsettled</text>
<text x="408.3" y="1615.3" text-anchor="middle" fill="#55F0FA" stroke="#55F0FA" stroke-width="0.6" font-family='"Liberation Serif", "DejaVu Serif", serif' font-weight="bold" font-style="italic" font-size="31" textLength="38" lengthAdjust="spacingAndGlyphs">G0</text>
<text x="543.0" y="1577.4" text-anchor="middle" fill="#55F014" stroke="#55F014" stroke-width="0.6" font-family='"Liberation Serif", "DejaVu Serif", serif' font-weight="bold" font-style="italic" font-size="31" textLength="79.5" lengthAdjust="spacingAndGlyphs">Active</text>
<text x="543.0" y="1615.3" text-anchor="middle" fill="#55F014" stroke="#55F014" stroke-width="0.6" font-family='"Liberation Serif", "DejaVu Serif", serif' font-weight="bold" font-style="italic" font-size="31" textLength="38" lengthAdjust="spacingAndGlyphs">G0</text>
<text x="691.8" y="1577.4" text-anchor="middle" fill="#F5961E" stroke="#F5961E" stroke-width="0.6" font-family='"Liberation Serif", "DejaVu Serif", serif' font-weight="bold" font-style="italic" font-size="31" textLength="167" lengthAdjust="spacingAndGlyphs">Minor Storm</text>
<text x="691.8" y="1615.3" text-anchor="middle" fill="#F5961E" stroke="#F5961E" stroke-width="0.6" font-family='"Liberation Serif", "DejaVu Serif", serif' font-weight="bold" font-style="italic" font-size="31" textLength="37" lengthAdjust="spacingAndGlyphs">G1</text>
<text x="886.6" y="1577.4" text-anchor="middle" fill="#E61414" stroke="#E61414" stroke-width="0.6" font-family='"Liberation Serif", "DejaVu Serif", serif' font-weight="bold" font-style="italic" font-size="31" textLength="167" lengthAdjust="spacingAndGlyphs">Major Storm</text>
<text x="886.6" y="1615.3" text-anchor="middle" fill="#E61414" stroke="#E61414" stroke-width="0.6" font-family='"Liberation Serif", "DejaVu Serif", serif' font-weight="bold" font-style="italic" font-size="31" textLength="82" lengthAdjust="spacingAndGlyphs">G2-G3</text>
<text x="1082.2" y="1577.4" text-anchor="middle" fill="#F014F0" stroke="#F014F0" stroke-width="0.6" font-family='"Liberation Serif", "DejaVu Serif", serif' font-weight="bold" font-style="italic" font-size="31" textLength="168" lengthAdjust="spacingAndGlyphs">Severe Storm</text>
<text x="1082.2" y="1615.3" text-anchor="middle" fill="#F014F0" stroke="#F014F0" stroke-width="0.6" font-family='"Liberation Serif", "DejaVu Serif", serif' font-weight="bold" font-style="italic" font-size="31" textLength="36" lengthAdjust="spacingAndGlyphs">G4</text>
<text x="-0.8" y="1667.3" stroke="#000" stroke-width="0.45" font-family='"Liberation Serif", "DejaVu Serif", serif' font-style="italic" font-size="23.5" textLength="258" lengthAdjust="spacingAndGlyphs">Created : 14/11/25 15:45 GMT</text>
<text x="1202.3" y="1667.1" text-anchor="end" stroke="#000" stroke-width="0.45" font-family='"Liberation Serif", "DejaVu Serif", serif' font-style="italic" font-size="23.5" textLength="125.5" lengthAdjust="spacingAndGlyphs"><tspan font-style="normal">©</tspan> NERC 2025</text>
</svg>
</body></html>
